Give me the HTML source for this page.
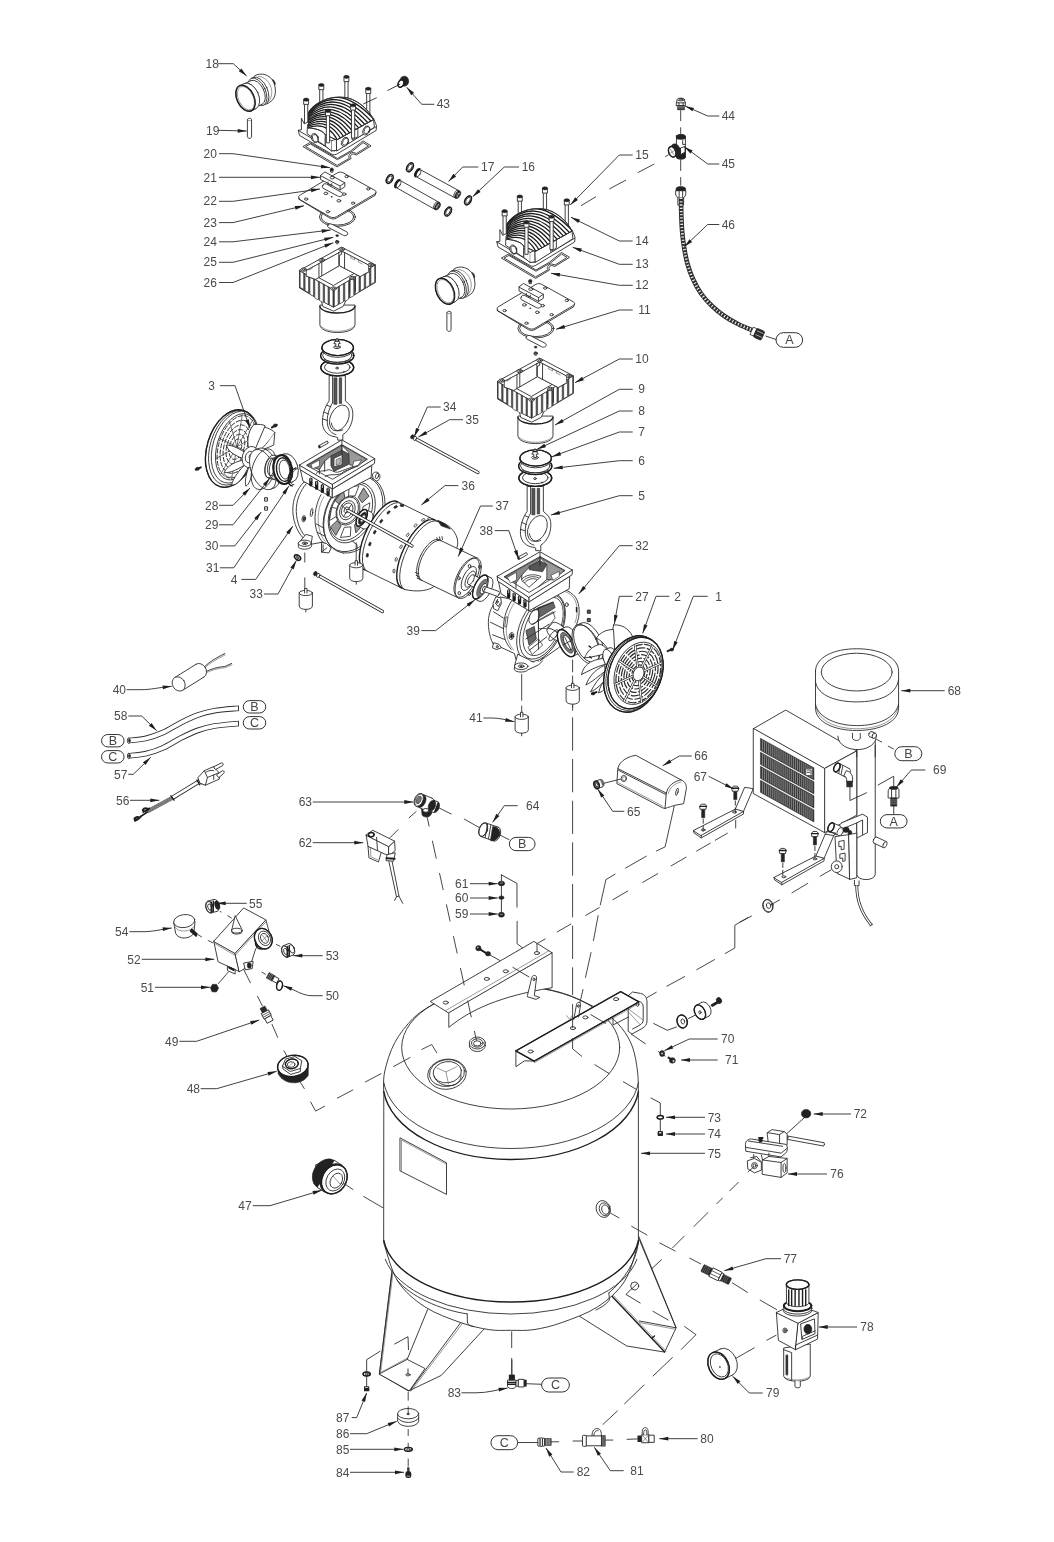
<!DOCTYPE html>
<html><head><meta charset="utf-8"><title>Parts diagram</title>
<style>
html,body{margin:0;padding:0;background:#fff;}
svg{display:block;filter:grayscale(1);}
svg *{vector-effect:non-scaling-stroke;}
text{font-family:"Liberation Sans",sans-serif;font-size:12px;fill:#4a4a4a;}
.ovt{font-size:12.5px;fill:#444;}
.ld{fill:none;stroke:#2a2a2a;stroke-width:0.9;}
.ah{fill:#1e1e1e;stroke:none;}
.ln{fill:none;stroke:#2a2a2a;stroke-width:0.9;}
.ds{fill:none;stroke:#333;stroke-width:0.9;}
.ov{fill:#fff;stroke:#333;stroke-width:1;}
.p{fill:#fff;stroke:#2b2b2b;stroke-width:0.9;stroke-linejoin:round;stroke-linecap:round;}
.n{fill:none;stroke:#2b2b2b;stroke-width:0.9;stroke-linejoin:round;stroke-linecap:round;}
.t{fill:none;stroke:#555;stroke-width:0.6;stroke-linejoin:round;stroke-linecap:round;}
.pt{fill:#fff;stroke:#444;stroke-width:0.7;stroke-linejoin:round;}
.b{fill:none;stroke:#1d1d1d;stroke-width:1.4;stroke-linejoin:round;stroke-linecap:round;}
.bb{fill:none;stroke:#1d1d1d;stroke-width:2;stroke-linejoin:round;stroke-linecap:round;}
.k{fill:#222;stroke:#222;stroke-width:0.6;stroke-linejoin:round;}
.g{fill:#777;stroke:#333;stroke-width:0.6;}
.lg{fill:#ccc;stroke:#333;stroke-width:0.7;}
.w{fill:#fff;stroke:none;}
</style></head><body>
<svg width="1054" height="1542" viewBox="0 0 1054 1542">
<rect class="w" x="0" y="0" width="1054" height="1542"/>
<polygon class="p" points="392,1270 379.4,1373.9 408.5,1391 441.3,1375.4 485,1328 467,1313 430,1290"/>
<path class="p" d="M379.4,1373.9 L407.2,1359.4 L425,1368.5 L409.5,1390.6 Z"/>
<polyline class="t" points="380.6,1372.6 407.2,1358.2"/>
<polyline class="ln" points="427.7,1309.3 407.2,1359.4"/>
<polyline class="ln" points="467.2,1313.9 409.8,1390.9"/>
<polyline class="t" points="468.6,1315.4 411,1391.2"/>
<polyline class="t" points="393.2,1271 380.6,1373"/>
<ellipse class="n" cx="408" cy="1374.8" rx="2.2" ry="1.1"/>
<polyline class="ln" points="408,1368.5 408,1374.8"/>
<polyline class="ln" points="394.3,1344.2 408,1336.7 408.5,1350"/>
<polygon class="p" points="638.6,1236 676.1,1327.8 664.7,1352.1 626.8,1346 579.7,1316.4 600,1290"/>
<polyline class="b" points="608.9,1292.9 664.7,1352.1"/>
<polyline class="t" points="610.4,1292.2 666,1351"/>
<polyline class="ln" points="638.9,1320.9 676.1,1327.8"/>
<polyline class="t" points="639.5,1322.5 675.6,1329.3"/>
<polyline class="b" points="652,1338 654.5,1336"/>
<path class="p" d="M383.8,1096 C383.93,1092 382.77,1080.92 384.6,1072 C386.43,1063.08 390.07,1051.42 394.8,1042.5 C399.53,1033.58 406.97,1024.65 413,1018.5 C419.03,1012.35 424.83,1009.33 431,1005.6 C437.17,1001.87 443.5,998.69 450,996.12 C456.5,993.54 463.33,991.7 470,990.15 C476.67,988.6 483.33,987.56 490,986.82 C496.67,986.08 503.33,985.73 510,985.7 C516.67,985.68 523.33,985.98 530,986.67 C536.67,987.36 543.33,988.35 550,989.84 C556.67,991.32 563.67,993.26 570,995.6 C576.33,997.93 582,1000.91 588,1003.84 C594,1006.77 600.38,1009.17 606,1013.2 C611.62,1017.23 617.28,1022.37 621.7,1028 C626.12,1033.63 629.85,1039.67 632.5,1047 C635.15,1054.33 636.62,1063.83 637.6,1072 C638.58,1080.17 638.27,1092 638.4,1096 L638.4,1243 L638.4,1243 C636.1,1249.37 631.4,1270.57 624.6,1281.2 C617.8,1291.83 608.03,1299.92 597.6,1306.8 C587.17,1313.68 572.6,1318.7 562,1322.5 C551.4,1326.3 542.45,1328.3 534,1329.6 C525.55,1330.9 518.83,1330.3 511.3,1330.3 C503.77,1330.3 497.28,1330.9 488.8,1329.6 C480.32,1328.3 471.07,1326.3 460.4,1322.5 C449.73,1318.7 435.23,1313.68 424.8,1306.8 C414.37,1299.92 404.63,1291.83 397.8,1281.2 C390.97,1270.57 386.13,1249.37 383.8,1243 Z"/>
<ellipse class="n" cx="510.7" cy="1047.5" rx="109" ry="61.5"/>
<path class="n" d="M383.8,1082.68 A128,73.5 0 0 0 638.4,1082.68"/>
<path class="b" d="M383.8,1091.53 A128,75.9 0 0 0 638.4,1091.53"/>
<path class="b" d="M383.8,1240.39 A128,68.8 0 0 0 638.4,1240.39"/>
<path class="n" d="M385.3,1259.29 A128,67.1 0 0 0 636.9,1259.29"/>
<path class="n" d="M467.2,1313.9 L467.4,1322 C468,1325 470,1326 474,1326.6"/>
<path class="n" d="M397,1280 C410,1296 440,1310 467.2,1313.9"/>
<path class="n" d="M608.9,1292.9 L609.4,1300 C606,1305 600,1308 596,1310"/>
<path class="n" d="M638.3,1243 C636,1262 624,1280 608.9,1292.9"/>
<polyline class="ln" points="392,1272.9 379.4,1373.9"/>
<polyline class="ln" points="638.6,1237.9 676.1,1327.8"/>
<ellipse class="p" cx="634.7" cy="1286" rx="4" ry="4"/>
<polyline class="ln" points="631.6,1289 637.8,1283"/>
<polyline class="ln" points="631.3,1289.1 626,1294.4 640.5,1303.2"/>
<polyline class="ln" points="651.1,1269.3 661.7,1259.5"/>
<polygon class="p" points="400.3,1138 446.5,1162.8 446.5,1194.4 400.3,1171"/>
<polyline class="t" points="401.5,1170.5 401.5,1140 446.5,1164.2"/>
<ellipse class="p" cx="603.3" cy="1209" rx="7" ry="8.6" transform="rotate(-20 603.3 1209)"/>
<ellipse class="p" cx="604.6" cy="1209.3" rx="5.2" ry="6.6" transform="rotate(-20 604.6 1209.3)"/>
<ellipse class="n" cx="605.4" cy="1209.6" rx="3.6" ry="4.8" transform="rotate(-20 605.4 1209.6)"/>
<ellipse class="p" cx="447" cy="1074.2" rx="19.3" ry="15" transform="rotate(-8 447 1074.2)"/>
<ellipse class="n" cx="447" cy="1073" rx="17.6" ry="13.4" transform="rotate(-8 447 1073)"/>
<ellipse class="n" cx="447.3" cy="1072.2" rx="14.2" ry="10.6" transform="rotate(-8 447.3 1072.2)"/>
<path class="n" d="M434,1076 C436,1083 444,1086.5 452,1085.5 C458,1084.6 461.5,1080 461,1075"/>
<polyline class="t" points="446,1072 448.5,1084"/>
<polyline class="t" points="437,1068 446,1072 457,1066.5"/>
<ellipse class="p" cx="477.3" cy="1045.5" rx="8" ry="6"/>
<ellipse class="p" cx="477.3" cy="1043" rx="8" ry="6"/>
<ellipse class="n" cx="477.3" cy="1043" rx="5.8" ry="4.2"/>
<ellipse class="n" cx="477.3" cy="1043.4" rx="3.8" ry="2.6"/>
<path class="p" d="M448.8,1012.7 L448.8,1027.4 C470,1010 500,996 552.1,987.7 L552.1,952.8 Z"/>
<polygon class="p" points="430.6,1001.3 533.9,941.4 552.1,952.8 448.8,1012.7"/>
<polyline class="t" points="445.6,1010.6 548.9,950.8"/>
<ellipse class="n" cx="445.8" cy="1002.6" rx="2.6" ry="1.5"/>
<ellipse class="n" cx="486.8" cy="978.9" rx="2.6" ry="1.5"/>
<ellipse class="n" cx="505.8" cy="971.3" rx="2.6" ry="1.5"/>
<ellipse class="n" cx="536.9" cy="953.1" rx="2.6" ry="1.5"/>
<polyline class="ln" points="512.6,967.2 529.3,977.1"/>
<path class="p" d="M527.5,995.2 L531.8,977.5 C532.6,974.6 536.6,974.6 536.6,977.8 L534.3,995.6 L539.8,997.4 L536,999.4 L527.5,996.8 Z"/>
<ellipse class="n" cx="534" cy="979.3" rx="1" ry="1.4"/>
<path class="p" d="M628.5,995.5 L632.5,992 L640.5,993.4 C645,994.5 647,998 647,1002 L647,1021 C647,1024.5 645,1026.8 642,1028.5 L632,1034 L628.5,1031.5 Z"/>
<path class="n" d="M632.5,999.5 L638.8,1001.3 C642,1002.3 643.2,1004 643.2,1007 L643.2,1019.5 C643.2,1022.5 642,1024 639,1025.6 L632.5,1029"/>
<polyline class="t" points="628.5,1009 643,1020"/>
<polyline class="t" points="628.5,1012 640,1024.5"/>
<ellipse class="n" cx="637.6" cy="1004.3" rx="1.3" ry="2"/>
<polyline class="ln" points="630.9,1033.8 645.7,1044"/>
<polygon class="p" points="515.9,1050.8 515.9,1066.7 524.5,1060.8 534.2,1061.1"/>
<polygon class="p" points="515.9,1050.8 620.7,991.6 638.9,1001.9 534.2,1061.1"/>
<polygon class="b" points="515.9,1050.8 620.7,991.6 638.9,1001.9 534.2,1061.1"/>
<polyline class="t" points="534.2,1062.7 638.9,1003.5"/>
<path class="n" d="M613,1018 L613,1025 L628.5,1017"/>
<ellipse class="n" cx="530.7" cy="1051.5" rx="2.6" ry="1.5"/>
<ellipse class="n" cx="572.9" cy="1028.1" rx="2.6" ry="1.5"/>
<ellipse class="n" cx="585.4" cy="1017.4" rx="2.6" ry="1.5"/>
<ellipse class="n" cx="616.1" cy="999.1" rx="2.6" ry="1.5"/>
<polyline class="ln" points="590.5,1014.5 606,1023.5"/>
<path class="n" d="M573.8,1019.5 L576.5,1004.6 C577.2,1001.4 581,1001.6 580.6,1004.8 L578.6,1017"/>
<ellipse class="n" cx="578.4" cy="1006" rx="0.9" ry="1.3"/>
<path class="t" d="M566.5,1015.6 L569.6,1019.4 L572,1015.6"/>
<g transform="translate(225,65) scale(0.07590)">
<ellipse class="k" cx="632" cy="232" rx="26" ry="42" transform="rotate(-25 632 232)"/>
<path class="p" d="M395,140 C470,95 590,120 640,225 C685,330 665,440 605,480 C575,500 555,512 540,516 L300,300 Z"/>
<path class="t" d="M440,150 C520,150 600,230 615,330 C622,400 600,455 575,480"/>
<ellipse class="p" cx="452" cy="341" rx="108" ry="194" transform="rotate(-24.78 452 341)"/>
<polygon points="507.3,529.14 533.3,517.14 370.7,164.86 344.7,176.86" fill="#fff" stroke="none"/>
<path class="n" d="M507.3,529.14 L533.3,517.14 M344.7,176.86 L370.7,164.86"/>
<ellipse class="p" cx="426" cy="353" rx="108" ry="194" transform="rotate(-24.78 426 353)"/>
<ellipse class="p" cx="415" cy="362" rx="100" ry="172" transform="rotate(-25.41 415 362)"/>
<polygon points="408.8,555.36 488.8,517.36 341.2,206.64 261.2,244.64" fill="#fff" stroke="none"/>
<path class="n" d="M408.8,555.36 L488.8,517.36 M261.2,244.64 L341.2,206.64"/>
<ellipse class="p" cx="335" cy="400" rx="100" ry="172" transform="rotate(-25.41 335 400)"/>
<ellipse class="p" cx="330" cy="410" rx="112" ry="182" transform="rotate(-25.02 330 410)"/>
<polygon points="346.97,602.93 406.97,574.93 253.03,245.07 193.03,273.07" fill="#fff" stroke="none"/>
<path class="n" d="M346.97,602.93 L406.97,574.93 M193.03,273.07 L253.03,245.07"/>
<ellipse class="p" cx="270" cy="438" rx="112" ry="182" transform="rotate(-25.02 270 438)"/>
<ellipse class="b" cx="270" cy="438" rx="112" ry="182" transform="rotate(-25 270 438)"/>
<ellipse class="t" cx="276" cy="437" rx="98" ry="164" transform="rotate(-25 276 437)"/>
</g>
<g transform="translate(225,65) scale(0.07590)">
<path class="p" d="M295,720 C295,695 350,695 350,720 L350,945 C350,975 295,975 295,945 Z"/>
<path class="t" d="M295,722 C300,740 345,740 350,722"/>
</g>
<g transform="translate(424.5,258) scale(0.07590)">
<ellipse class="k" cx="632" cy="232" rx="26" ry="42" transform="rotate(-25 632 232)"/>
<path class="p" d="M395,140 C470,95 590,120 640,225 C685,330 665,440 605,480 C575,500 555,512 540,516 L300,300 Z"/>
<path class="t" d="M440,150 C520,150 600,230 615,330 C622,400 600,455 575,480"/>
<ellipse class="p" cx="452" cy="341" rx="108" ry="194" transform="rotate(-24.78 452 341)"/>
<polygon points="507.3,529.14 533.3,517.14 370.7,164.86 344.7,176.86" fill="#fff" stroke="none"/>
<path class="n" d="M507.3,529.14 L533.3,517.14 M344.7,176.86 L370.7,164.86"/>
<ellipse class="p" cx="426" cy="353" rx="108" ry="194" transform="rotate(-24.78 426 353)"/>
<ellipse class="p" cx="415" cy="362" rx="100" ry="172" transform="rotate(-25.41 415 362)"/>
<polygon points="408.8,555.36 488.8,517.36 341.2,206.64 261.2,244.64" fill="#fff" stroke="none"/>
<path class="n" d="M408.8,555.36 L488.8,517.36 M261.2,244.64 L341.2,206.64"/>
<ellipse class="p" cx="335" cy="400" rx="100" ry="172" transform="rotate(-25.41 335 400)"/>
<ellipse class="p" cx="330" cy="410" rx="112" ry="182" transform="rotate(-25.02 330 410)"/>
<polygon points="346.97,602.93 406.97,574.93 253.03,245.07 193.03,273.07" fill="#fff" stroke="none"/>
<path class="n" d="M346.97,602.93 L406.97,574.93 M193.03,273.07 L253.03,245.07"/>
<ellipse class="p" cx="270" cy="438" rx="112" ry="182" transform="rotate(-25.02 270 438)"/>
<ellipse class="b" cx="270" cy="438" rx="112" ry="182" transform="rotate(-25 270 438)"/>
<ellipse class="t" cx="276" cy="437" rx="98" ry="164" transform="rotate(-25 276 437)"/>
</g>
<g transform="translate(424.5,258) scale(0.07590)">
<path class="p" d="M295,720 C295,695 350,695 350,720 L350,945 C350,975 295,975 295,945 Z"/>
<path class="t" d="M295,722 C300,740 345,740 350,722"/>
</g>
<g transform="translate(290,65) scale(0.09488)">
<path class="p" d="M140,858 L208,818 L500,985 L640,905 L770,800 L855,852 L700,948 L668,938 C640,940 628,965 645,985 L500,1072 Z"/>
<path class="p" d="M168,858 L215,832 L500,998 L655,910 L770,818 L828,853 L702,932 L665,922 C620,930 610,970 628,982 L500,1056 Z"/>
<path class="p" d="M313,230 L313,445 L347,445 L347,230 Z"/>
<path class="p" d="M304,210 L304,260 L356,260 L356,210 Z"/>
<ellipse class="k" cx="330" cy="210" rx="27" ry="16"/>
<path class="p" d="M578,145 L578,380 L612,380 L612,145 Z"/>
<path class="p" d="M569,125 L569,175 L621,175 L621,125 Z"/>
<ellipse class="k" cx="595" cy="125" rx="27" ry="16"/>
<path class="p" d="M808,270 L808,555 L842,555 L842,270 Z"/>
<path class="p" d="M799,250 L799,300 L851,300 L851,250 Z"/>
<ellipse class="k" cx="825" cy="250" rx="27" ry="16"/>
<path class="p" d="M153,385 L153,700 L187,700 L187,385 Z"/>
<path class="p" d="M144,365 L144,415 L196,415 L196,365 Z"/>
<ellipse class="k" cx="170" cy="365" rx="27" ry="16"/>
<path class="p" d="M88,690 L100,742 L440,940 Q465,955 492,940 L908,690 L912,640 L880,560 L500,770 L190,600 L150,620 L120,560 L120,680 Z"/>
<path class="n" d="M88,690 L445,900 Q465,910 490,900 L908,650"/>
<path class="p" d="M180,720 L185,630 C200,600 240,610 270,625 L340,665 C365,680 372,700 372,730 L372,850 Z"/>
<ellipse class="p" cx="262" cy="770" rx="36" ry="50" transform="rotate(-20 262 770)"/>
<ellipse class="n" cx="266" cy="772" rx="28" ry="42" transform="rotate(-20 266 772)"/>
<path class="p" d="M372,850 L372,760 L440,800 L440,905 Z"/>
<path class="p" d="M440,800 L492,775 L492,900 L440,905"/>
<path class="p" d="M492,790 L880,575 L890,655 L495,905 Z"/>
<ellipse class="p" cx="580" cy="810" rx="34" ry="50" transform="rotate(25 580 810)"/>
<ellipse class="n" cx="584" cy="808" rx="26" ry="41" transform="rotate(25 584 808)"/>
<ellipse class="p" cx="805" cy="690" rx="34" ry="50" transform="rotate(25 805 690)"/>
<ellipse class="n" cx="809" cy="688" rx="26" ry="41" transform="rotate(25 809 688)"/>
<path class="n" d="M655,700 L655,790 L715,755 L715,665"/>
<path class="p" d="M195,662 L195,500 C230,430 330,372 420,350 C480,335 560,335 620,350 C720,380 830,470 880,575 L492,790 L372,735 C350,700 300,672 195,662 Z"/>
<clipPath id="dc0"><path d="M195,662 L195,500 C230,430 330,372 420,350 C480,335 560,335 620,350 C720,380 830,470 880,575 L492,790 L372,735 C350,700 300,672 195,662 Z"/></clipPath>
<g clip-path="url(#dc0)">
<path d="M190,488 Q490,150 885,572" fill="none" stroke="#1c1c1c" stroke-width="1.3"/>
<path d="M190,502.33 Q481.67,186.67 852.92,590.17" fill="none" stroke="#1c1c1c" stroke-width="1.3"/>
<path d="M190,516.67 Q473.33,223.33 820.83,608.33" fill="none" stroke="#1c1c1c" stroke-width="1.3"/>
<path d="M190,531 Q465,260 788.75,626.5" fill="none" stroke="#1c1c1c" stroke-width="1.3"/>
<path d="M190,545.33 Q456.67,296.67 756.67,644.67" fill="none" stroke="#1c1c1c" stroke-width="1.3"/>
<path d="M190,559.67 Q448.33,333.33 724.58,662.83" fill="none" stroke="#1c1c1c" stroke-width="1.3"/>
<path d="M190,574 Q440,370 692.5,681" fill="none" stroke="#1c1c1c" stroke-width="1.3"/>
<path d="M190,588.33 Q431.67,406.67 660.42,699.17" fill="none" stroke="#1c1c1c" stroke-width="1.3"/>
<path d="M190,602.67 Q423.33,443.33 628.33,717.33" fill="none" stroke="#1c1c1c" stroke-width="1.3"/>
<path d="M190,617 Q415,480 596.25,735.5" fill="none" stroke="#1c1c1c" stroke-width="1.3"/>
<path d="M190,631.33 Q406.67,516.67 564.17,753.67" fill="none" stroke="#1c1c1c" stroke-width="1.3"/>
<path d="M190,645.67 Q398.33,553.33 532.08,771.83" fill="none" stroke="#1c1c1c" stroke-width="1.3"/>
<path d="M190,660 Q390,590 500,790" fill="none" stroke="#1c1c1c" stroke-width="1.3"/>
</g>
<path class="n" d="M195,662 L195,500 C230,430 330,372 420,350 C480,335 560,335 620,350 C720,380 830,470 880,575 L492,790 L372,735 C350,700 300,672 195,662 Z"/>
<path class="p" d="M383,505 L383,820 L417,820 L417,505 Z"/>
<path class="p" d="M374,485 L374,535 L426,535 L426,485 Z"/>
<ellipse class="k" cx="400" cy="485" rx="27" ry="16"/>
<path class="p" d="M648,445 L648,770 L682,770 L682,445 Z"/>
<path class="p" d="M639,425 L639,475 L691,475 L691,425 Z"/>
<ellipse class="k" cx="665" cy="425" rx="27" ry="16"/>
</g>
<g transform="translate(488.5,176.5) scale(0.09488)">
<path class="p" d="M140,858 L208,818 L500,985 L640,905 L770,800 L855,852 L700,948 L668,938 C640,940 628,965 645,985 L500,1072 Z"/>
<path class="p" d="M168,858 L215,832 L500,998 L655,910 L770,818 L828,853 L702,932 L665,922 C620,930 610,970 628,982 L500,1056 Z"/>
<path class="p" d="M313,230 L313,445 L347,445 L347,230 Z"/>
<path class="p" d="M304,210 L304,260 L356,260 L356,210 Z"/>
<ellipse class="k" cx="330" cy="210" rx="27" ry="16"/>
<path class="p" d="M578,145 L578,380 L612,380 L612,145 Z"/>
<path class="p" d="M569,125 L569,175 L621,175 L621,125 Z"/>
<ellipse class="k" cx="595" cy="125" rx="27" ry="16"/>
<path class="p" d="M808,270 L808,555 L842,555 L842,270 Z"/>
<path class="p" d="M799,250 L799,300 L851,300 L851,250 Z"/>
<ellipse class="k" cx="825" cy="250" rx="27" ry="16"/>
<path class="p" d="M153,385 L153,700 L187,700 L187,385 Z"/>
<path class="p" d="M144,365 L144,415 L196,415 L196,365 Z"/>
<ellipse class="k" cx="170" cy="365" rx="27" ry="16"/>
<path class="p" d="M88,690 L100,742 L440,940 Q465,955 492,940 L908,690 L912,640 L880,560 L500,770 L190,600 L150,620 L120,560 L120,680 Z"/>
<path class="n" d="M88,690 L445,900 Q465,910 490,900 L908,650"/>
<path class="p" d="M180,720 L185,630 C200,600 240,610 270,625 L340,665 C365,680 372,700 372,730 L372,850 Z"/>
<ellipse class="p" cx="262" cy="770" rx="36" ry="50" transform="rotate(-20 262 770)"/>
<ellipse class="n" cx="266" cy="772" rx="28" ry="42" transform="rotate(-20 266 772)"/>
<path class="p" d="M372,850 L372,760 L440,800 L440,905 Z"/>
<path class="p" d="M440,800 L492,775 L492,900 L440,905"/>
<path class="p" d="M492,790 L880,575 L890,655 L495,905 Z"/>
<path class="n" d="M655,700 L655,790 L715,755 L715,665"/>
<path class="p" d="M195,662 L195,500 C230,430 330,372 420,350 C480,335 560,335 620,350 C720,380 830,470 880,575 L492,790 L372,735 C350,700 300,672 195,662 Z"/>
<clipPath id="dc310"><path d="M195,662 L195,500 C230,430 330,372 420,350 C480,335 560,335 620,350 C720,380 830,470 880,575 L492,790 L372,735 C350,700 300,672 195,662 Z"/></clipPath>
<g clip-path="url(#dc310)">
<path d="M190,488 Q490,150 885,572" fill="none" stroke="#1c1c1c" stroke-width="1.3"/>
<path d="M190,502.33 Q481.67,186.67 852.92,590.17" fill="none" stroke="#1c1c1c" stroke-width="1.3"/>
<path d="M190,516.67 Q473.33,223.33 820.83,608.33" fill="none" stroke="#1c1c1c" stroke-width="1.3"/>
<path d="M190,531 Q465,260 788.75,626.5" fill="none" stroke="#1c1c1c" stroke-width="1.3"/>
<path d="M190,545.33 Q456.67,296.67 756.67,644.67" fill="none" stroke="#1c1c1c" stroke-width="1.3"/>
<path d="M190,559.67 Q448.33,333.33 724.58,662.83" fill="none" stroke="#1c1c1c" stroke-width="1.3"/>
<path d="M190,574 Q440,370 692.5,681" fill="none" stroke="#1c1c1c" stroke-width="1.3"/>
<path d="M190,588.33 Q431.67,406.67 660.42,699.17" fill="none" stroke="#1c1c1c" stroke-width="1.3"/>
<path d="M190,602.67 Q423.33,443.33 628.33,717.33" fill="none" stroke="#1c1c1c" stroke-width="1.3"/>
<path d="M190,617 Q415,480 596.25,735.5" fill="none" stroke="#1c1c1c" stroke-width="1.3"/>
<path d="M190,631.33 Q406.67,516.67 564.17,753.67" fill="none" stroke="#1c1c1c" stroke-width="1.3"/>
<path d="M190,645.67 Q398.33,553.33 532.08,771.83" fill="none" stroke="#1c1c1c" stroke-width="1.3"/>
<path d="M190,660 Q390,590 500,790" fill="none" stroke="#1c1c1c" stroke-width="1.3"/>
</g>
<path class="n" d="M195,662 L195,500 C230,430 330,372 420,350 C480,335 560,335 620,350 C720,380 830,470 880,575 L492,790 L372,735 C350,700 300,672 195,662 Z"/>
<path class="p" d="M383,505 L383,820 L417,820 L417,505 Z"/>
<path class="p" d="M374,485 L374,535 L426,535 L426,485 Z"/>
<ellipse class="k" cx="400" cy="485" rx="27" ry="16"/>
<path class="p" d="M648,445 L648,770 L682,770 L682,445 Z"/>
<path class="p" d="M639,425 L639,475 L691,475 L691,425 Z"/>
<ellipse class="k" cx="665" cy="425" rx="27" ry="16"/>
</g>
<g transform="translate(290,160) scale(0.09488)">
<ellipse class="p" cx="500" cy="600" rx="190" ry="100"/>
<ellipse class="p" cx="500" cy="600" rx="172" ry="86"/>
<path class="p" d="M92,395 C85,385 95,375 110,368 L500,135 C520,125 540,125 560,135 L895,320 C912,330 912,345 895,358 L490,598 C470,610 440,610 420,598 L100,415 Z"/>
<path class="n" d="M92,400 L92,412 L420,612 C440,624 470,624 490,612 L898,372 L905,345"/>
<ellipse class="n" cx="170" cy="412" rx="18" ry="12"/>
<ellipse class="n" cx="597" cy="175" rx="18" ry="12"/>
<ellipse class="n" cx="825" cy="305" rx="18" ry="12"/>
<ellipse class="n" cx="400" cy="545" rx="18" ry="12"/>
<ellipse class="n" cx="665" cy="455" rx="18" ry="12"/>
<ellipse class="n" cx="378" cy="352" rx="20" ry="13"/>
<ellipse class="n" cx="570" cy="360" rx="20" ry="13"/>
<ellipse class="n" cx="515" cy="430" rx="20" ry="13"/>
<ellipse class="k" cx="440" cy="388" rx="7" ry="5"/>
<path class="p" d="M345,268 C345,250 370,246 385,254 L550,345 C562,355 555,380 535,384 C520,388 510,384 500,378 L345,296 C338,290 340,275 345,268 Z"/>
<path class="p" d="M322,165 L322,205 L528,315 L578,282 L578,240 L372,128 Z"/>
<path class="n" d="M322,165 L528,275 L578,240 M528,275 L528,315"/>
<ellipse class="n" cx="446" cy="186" rx="22" ry="14"/>
<path class="n" d="M400,232 L400,250 L440,272 L440,250"/>
<ellipse class="k" cx="440" cy="100" rx="18" ry="16"/>
<path class="n" d="M428,108 L428,128 L452,128 L452,108"/>
<path class="p" d="M398,690 C398,675 425,668 445,678 L600,758 C615,768 608,792 590,796 C575,800 565,796 555,790 L402,710 C394,704 395,695 398,690 Z"/>
<ellipse class="k" cx="497" cy="797" rx="15" ry="10"/>
<ellipse class="p" cx="497" cy="860" rx="17" ry="13"/>
<ellipse class="k" cx="497" cy="858" rx="8" ry="6"/>
<path class="n" d="M482,862 L482,876 C488,886 506,886 512,876 L512,862"/>
</g>
<g transform="translate(488.5,271.5) scale(0.09488)">
<ellipse class="p" cx="500" cy="600" rx="190" ry="100"/>
<ellipse class="p" cx="500" cy="600" rx="172" ry="86"/>
<path class="p" d="M92,395 C85,385 95,375 110,368 L500,135 C520,125 540,125 560,135 L895,320 C912,330 912,345 895,358 L490,598 C470,610 440,610 420,598 L100,415 Z"/>
<path class="n" d="M92,400 L92,412 L420,612 C440,624 470,624 490,612 L898,372 L905,345"/>
<ellipse class="n" cx="170" cy="412" rx="18" ry="12"/>
<ellipse class="n" cx="597" cy="175" rx="18" ry="12"/>
<ellipse class="n" cx="825" cy="305" rx="18" ry="12"/>
<ellipse class="n" cx="400" cy="545" rx="18" ry="12"/>
<ellipse class="n" cx="665" cy="455" rx="18" ry="12"/>
<ellipse class="n" cx="378" cy="352" rx="20" ry="13"/>
<ellipse class="n" cx="570" cy="360" rx="20" ry="13"/>
<ellipse class="n" cx="515" cy="430" rx="20" ry="13"/>
<ellipse class="k" cx="440" cy="388" rx="7" ry="5"/>
<path class="p" d="M345,268 C345,250 370,246 385,254 L550,345 C562,355 555,380 535,384 C520,388 510,384 500,378 L345,296 C338,290 340,275 345,268 Z"/>
<path class="p" d="M322,165 L322,205 L528,315 L578,282 L578,240 L372,128 Z"/>
<path class="n" d="M322,165 L528,275 L578,240 M528,275 L528,315"/>
<ellipse class="n" cx="446" cy="186" rx="22" ry="14"/>
<path class="n" d="M400,232 L400,250 L440,272 L440,250"/>
<ellipse class="k" cx="440" cy="100" rx="18" ry="16"/>
<path class="n" d="M428,108 L428,128 L452,128 L452,108"/>
<path class="p" d="M398,690 C398,675 425,668 445,678 L600,758 C615,768 608,792 590,796 C575,800 565,796 555,790 L402,710 C394,704 395,695 398,690 Z"/>
<ellipse class="k" cx="497" cy="797" rx="15" ry="10"/>
<ellipse class="p" cx="497" cy="860" rx="17" ry="13"/>
<ellipse class="k" cx="497" cy="858" rx="8" ry="6"/>
<path class="n" d="M482,862 L482,876 C488,886 506,886 512,876 L512,862"/>
</g>
<g transform="translate(290,240) scale(0.09488)">
<path class="p" d="M315,690 L315,890 C315,945 400,975 500,975 C600,975 685,945 685,890 L685,690 Z"/>
<path class="b" d="M315,700 C330,750 420,770 500,770 C590,770 670,745 685,700"/>
<path class="t" d="M330,912 C370,950 440,962 500,962 C570,962 640,945 672,912"/>
<path class="p" d="M330,640 L345,700 L460,750 L560,700 L600,620 L460,705 Z"/>
<polygon points="100,320 460,522 460,707 330,640 100,505" fill="#4a4a4a" stroke="#222" stroke-width="0.8"/>
<polygon points="460,522 900,262 900,447 600,625 460,707" fill="#4a4a4a" stroke="#222" stroke-width="0.8"/>
<polygon class="pt" points="107.2,318.04 144.23,338.82 144.23,519.82 107.2,499.04"/>
<polygon class="pt" points="158.63,346.9 195.66,367.67 195.66,553.67 158.63,532.9"/>
<polygon class="pt" points="210.06,375.75 247.09,396.53 247.09,592.53 210.06,571.75"/>
<polygon class="pt" points="261.49,404.61 298.51,425.39 298.51,631.39 261.49,610.61"/>
<polygon class="pt" points="312.91,433.47 349.94,454.25 349.94,660.25 312.91,639.47"/>
<polygon class="pt" points="364.34,462.33 401.37,483.1 401.37,679.1 364.34,658.33"/>
<polygon class="pt" points="415.77,491.18 452.8,511.96 452.8,702.96 415.77,682.18"/>
<polygon class="pt" points="467.7,511.45 507.3,488.05 507.3,679.05 467.7,702.45"/>
<polygon class="pt" points="522.7,478.95 562.3,455.55 562.3,651.55 522.7,674.95"/>
<polygon class="pt" points="577.7,446.45 617.3,423.05 617.3,624.05 577.7,647.45"/>
<polygon class="pt" points="632.7,413.95 672.3,390.55 672.3,586.55 632.7,609.95"/>
<polygon class="pt" points="687.7,381.45 727.3,358.05 727.3,549.05 687.7,572.45"/>
<polygon class="pt" points="742.7,348.95 782.3,325.55 782.3,511.55 742.7,534.95"/>
<polygon class="pt" points="797.7,316.45 837.3,293.05 837.3,479.05 797.7,502.45"/>
<polygon class="pt" points="852.7,283.95 892.3,260.55 892.3,444.55 852.7,467.95"/>
<polygon class="p" points="100,320 545,75 900,262 460,522"/>
<polygon class="p" points="172,322 545,118 828,264 460,478"/>
<path class="n" d="M270,415 L520,270 L740,385"/>
<path class="n" d="M520,270 L520,135"/>
<path class="n" d="M172,382 L270,415 M828,339 L740,385"/>
<polygon points="172,322 545,118 545,150 520,165 520,270 270,415 172,380" fill="#fff" stroke="#222" stroke-width="0.7"/>
<polygon points="545,118 828,264 828,335 740,385 520,270 520,165 545,150" fill="#fff" stroke="#222" stroke-width="0.7"/>
<path class="n" d="M335,235 L335,375 M305,250 L305,392"/>
<path class="n" d="M515,130 L515,262 M575,135 L575,300"/>
<path class="t" d="M640,170 L640,190 L680,210 L680,192 M720,212 L720,232 L760,252"/>
<path class="t" d="M200,300 L200,318 L235,298 L235,282"/>
<ellipse class="p" cx="145" cy="312" rx="30" ry="18"/>
<ellipse class="n" cx="145" cy="312" rx="13" ry="8"/>
<ellipse class="p" cx="335" cy="212" rx="30" ry="18"/>
<ellipse class="n" cx="335" cy="212" rx="13" ry="8"/>
<ellipse class="p" cx="545" cy="98" rx="30" ry="18"/>
<ellipse class="n" cx="545" cy="98" rx="13" ry="8"/>
<ellipse class="p" cx="852" cy="262" rx="30" ry="18"/>
<ellipse class="n" cx="852" cy="262" rx="13" ry="8"/>
<ellipse class="p" cx="660" cy="400" rx="30" ry="18"/>
<ellipse class="n" cx="660" cy="400" rx="13" ry="8"/>
<ellipse class="p" cx="460" cy="512" rx="30" ry="18"/>
<ellipse class="n" cx="460" cy="512" rx="13" ry="8"/>
<path class="n" d="M630,402 L630,560 M690,402 L690,540"/>
</g>
<g transform="translate(488,351) scale(0.09488)">
<path class="p" d="M315,690 L315,890 C315,945 400,975 500,975 C600,975 685,945 685,890 L685,690 Z"/>
<path class="b" d="M315,700 C330,750 420,770 500,770 C590,770 670,745 685,700"/>
<path class="t" d="M330,912 C370,950 440,962 500,962 C570,962 640,945 672,912"/>
<path class="p" d="M330,640 L345,700 L460,750 L560,700 L600,620 L460,705 Z"/>
<polygon points="100,320 460,522 460,707 330,640 100,505" fill="#4a4a4a" stroke="#222" stroke-width="0.8"/>
<polygon points="460,522 900,262 900,447 600,625 460,707" fill="#4a4a4a" stroke="#222" stroke-width="0.8"/>
<polygon class="pt" points="107.2,318.04 144.23,338.82 144.23,519.82 107.2,499.04"/>
<polygon class="pt" points="158.63,346.9 195.66,367.67 195.66,553.67 158.63,532.9"/>
<polygon class="pt" points="210.06,375.75 247.09,396.53 247.09,592.53 210.06,571.75"/>
<polygon class="pt" points="261.49,404.61 298.51,425.39 298.51,631.39 261.49,610.61"/>
<polygon class="pt" points="312.91,433.47 349.94,454.25 349.94,660.25 312.91,639.47"/>
<polygon class="pt" points="364.34,462.33 401.37,483.1 401.37,679.1 364.34,658.33"/>
<polygon class="pt" points="415.77,491.18 452.8,511.96 452.8,702.96 415.77,682.18"/>
<polygon class="pt" points="467.7,511.45 507.3,488.05 507.3,679.05 467.7,702.45"/>
<polygon class="pt" points="522.7,478.95 562.3,455.55 562.3,651.55 522.7,674.95"/>
<polygon class="pt" points="577.7,446.45 617.3,423.05 617.3,624.05 577.7,647.45"/>
<polygon class="pt" points="632.7,413.95 672.3,390.55 672.3,586.55 632.7,609.95"/>
<polygon class="pt" points="687.7,381.45 727.3,358.05 727.3,549.05 687.7,572.45"/>
<polygon class="pt" points="742.7,348.95 782.3,325.55 782.3,511.55 742.7,534.95"/>
<polygon class="pt" points="797.7,316.45 837.3,293.05 837.3,479.05 797.7,502.45"/>
<polygon class="pt" points="852.7,283.95 892.3,260.55 892.3,444.55 852.7,467.95"/>
<polygon class="p" points="100,320 545,75 900,262 460,522"/>
<polygon class="p" points="172,322 545,118 828,264 460,478"/>
<path class="n" d="M270,415 L520,270 L740,385"/>
<path class="n" d="M520,270 L520,135"/>
<path class="n" d="M172,382 L270,415 M828,339 L740,385"/>
<polygon points="172,322 545,118 545,150 520,165 520,270 270,415 172,380" fill="#fff" stroke="#222" stroke-width="0.7"/>
<polygon points="545,118 828,264 828,335 740,385 520,270 520,165 545,150" fill="#fff" stroke="#222" stroke-width="0.7"/>
<path class="n" d="M335,235 L335,375 M305,250 L305,392"/>
<path class="n" d="M515,130 L515,262 M575,135 L575,300"/>
<path class="t" d="M640,170 L640,190 L680,210 L680,192 M720,212 L720,232 L760,252"/>
<path class="t" d="M200,300 L200,318 L235,298 L235,282"/>
<ellipse class="p" cx="145" cy="312" rx="30" ry="18"/>
<ellipse class="n" cx="145" cy="312" rx="13" ry="8"/>
<ellipse class="p" cx="335" cy="212" rx="30" ry="18"/>
<ellipse class="n" cx="335" cy="212" rx="13" ry="8"/>
<ellipse class="p" cx="545" cy="98" rx="30" ry="18"/>
<ellipse class="n" cx="545" cy="98" rx="13" ry="8"/>
<ellipse class="p" cx="852" cy="262" rx="30" ry="18"/>
<ellipse class="n" cx="852" cy="262" rx="13" ry="8"/>
<ellipse class="p" cx="660" cy="400" rx="30" ry="18"/>
<ellipse class="n" cx="660" cy="400" rx="13" ry="8"/>
<ellipse class="p" cx="460" cy="512" rx="30" ry="18"/>
<ellipse class="n" cx="460" cy="512" rx="13" ry="8"/>
<path class="n" d="M630,402 L630,560 M690,402 L690,540"/>
</g>
<g transform="translate(295,330) scale(0.08539)">
<path class="p" d="M400,540 L400,830 C350,900 315,1000 322,1100 C330,1190 400,1245 470,1250 L500,1260 L500,1290 L560,1290 L560,1225 C640,1180 690,1060 675,950 C668,900 640,870 590,830 L590,540 Z"/>
<path class="n" d="M440,850 C395,930 370,1010 380,1100 C388,1170 430,1215 480,1225"/>
<path class="n" d="M322,1040 L380,1060 M340,960 L392,985 M372,880 L420,900"/>
<ellipse class="p" cx="520" cy="1030" rx="105" ry="160" transform="rotate(25 520 1030)"/>
<path class="n" d="M425,1090 C440,1170 500,1200 560,1170"/>
<rect x="455" y="560" width="36" height="310" fill="#555" stroke="#222" stroke-width="0.6"/>
<rect x="518" y="560" width="28" height="300" fill="#555" stroke="#222" stroke-width="0.6"/>
<polyline class="n" points="440,545 440,850"/>
<ellipse class="b" cx="495" cy="440" rx="192" ry="97"/>
<ellipse class="p" cx="495" cy="440" rx="192" ry="97"/>
<ellipse class="b" cx="495" cy="440" rx="192" ry="97"/>
<ellipse class="n" cx="495" cy="436" rx="150" ry="70"/>
<ellipse class="n" cx="492" cy="446" rx="16" ry="11"/>
<ellipse class="k" cx="572" cy="490" rx="6" ry="5"/>
<ellipse class="p" cx="495" cy="300" rx="195" ry="100"/>
<ellipse class="b" cx="495" cy="300" rx="195" ry="100"/>
<ellipse class="n" cx="495" cy="296" rx="172" ry="84"/>
<path class="n" d="M345,345 C400,390 590,390 650,345"/>
<ellipse class="p" cx="500" cy="225" rx="185" ry="95"/>
<ellipse class="p" cx="500" cy="205" rx="185" ry="95"/>
<ellipse class="b" cx="500" cy="205" rx="185" ry="95"/>
<path class="n" d="M315,205 L315,225 M685,205 L685,225"/>
<ellipse class="p" cx="492" cy="200" rx="40" ry="18"/>
<path class="p" d="M478,195 L478,160 L455,160 L492,95 L530,160 L508,160 L508,195 Z"/>
<path class="b" d="M470,130 L515,130"/>
</g>
<g transform="translate(493,440.5) scale(0.08539)">
<path class="p" d="M400,540 L400,830 C350,900 315,1000 322,1100 C330,1190 400,1245 470,1250 L500,1260 L500,1290 L560,1290 L560,1225 C640,1180 690,1060 675,950 C668,900 640,870 590,830 L590,540 Z"/>
<path class="n" d="M440,850 C395,930 370,1010 380,1100 C388,1170 430,1215 480,1225"/>
<path class="n" d="M322,1040 L380,1060 M340,960 L392,985 M372,880 L420,900"/>
<ellipse class="p" cx="520" cy="1030" rx="105" ry="160" transform="rotate(25 520 1030)"/>
<path class="n" d="M425,1090 C440,1170 500,1200 560,1170"/>
<rect x="455" y="560" width="36" height="310" fill="#555" stroke="#222" stroke-width="0.6"/>
<rect x="518" y="560" width="28" height="300" fill="#555" stroke="#222" stroke-width="0.6"/>
<polyline class="n" points="440,545 440,850"/>
<ellipse class="b" cx="495" cy="440" rx="192" ry="97"/>
<ellipse class="p" cx="495" cy="440" rx="192" ry="97"/>
<ellipse class="b" cx="495" cy="440" rx="192" ry="97"/>
<ellipse class="n" cx="495" cy="436" rx="150" ry="70"/>
<ellipse class="n" cx="492" cy="446" rx="16" ry="11"/>
<ellipse class="k" cx="572" cy="490" rx="6" ry="5"/>
<ellipse class="p" cx="495" cy="300" rx="195" ry="100"/>
<ellipse class="b" cx="495" cy="300" rx="195" ry="100"/>
<ellipse class="n" cx="495" cy="296" rx="172" ry="84"/>
<path class="n" d="M345,345 C400,390 590,390 650,345"/>
<ellipse class="p" cx="500" cy="225" rx="185" ry="95"/>
<ellipse class="p" cx="500" cy="205" rx="185" ry="95"/>
<ellipse class="b" cx="500" cy="205" rx="185" ry="95"/>
<path class="n" d="M315,205 L315,225 M685,205 L685,225"/>
<ellipse class="p" cx="492" cy="200" rx="40" ry="18"/>
<path class="p" d="M478,195 L478,160 L455,160 L492,95 L530,160 L508,160 L508,195 Z"/>
<path class="b" d="M470,130 L515,130"/>
</g>
<g transform="translate(380,70) scale(0.09728)">
<polygon class="p" points="371.93,1096.89 779.93,1318.89 820.07,1245.11 412.07,1023.11"/>
<ellipse class="p" cx="392" cy="1060" rx="22" ry="42" transform="rotate(28.55 392 1060)"/>
<path d="M412.07,1023.11 A22,42 28.55 0 0 371.93,1096.89" fill="none" stroke="#1a1a1a" stroke-width="2.6"/>
<ellipse class="n" cx="786" cy="1274" rx="22" ry="42" transform="rotate(28.55 786 1274)"/>
<ellipse class="k" cx="800" cy="1282" rx="24" ry="42" transform="rotate(28.55 800 1282)"/>
<ellipse class="p" cx="802" cy="1283" rx="15" ry="28" transform="rotate(28.55 802 1283)"/>
<ellipse class="n" cx="803" cy="1284" rx="7" ry="12" transform="rotate(28.55 803 1284)"/>
<polygon class="p" points="166.4,1208.6 571.4,1436.6 612.6,1363.4 207.6,1135.4"/>
<ellipse class="p" cx="187" cy="1172" rx="22" ry="42" transform="rotate(29.38 187 1172)"/>
<path d="M207.6,1135.4 A22,42 29.38 0 0 166.4,1208.6" fill="none" stroke="#1a1a1a" stroke-width="2.6"/>
<ellipse class="n" cx="578" cy="1392" rx="22" ry="42" transform="rotate(29.38 578 1392)"/>
<ellipse class="k" cx="592" cy="1400" rx="24" ry="42" transform="rotate(29.38 592 1400)"/>
<ellipse class="p" cx="594" cy="1401" rx="15" ry="28" transform="rotate(29.38 594 1401)"/>
<ellipse class="n" cx="595" cy="1402" rx="7" ry="12" transform="rotate(29.38 595 1402)"/>
<ellipse class="p" cx="308" cy="1000" rx="30" ry="50" transform="rotate(30 308 1000)"/>
<ellipse class="b" cx="308" cy="1000" rx="30" ry="50" transform="rotate(30 308 1000)"/>
<ellipse class="p" cx="308" cy="1000" rx="18" ry="36" transform="rotate(30 308 1000)"/>
<ellipse class="p" cx="100" cy="1120" rx="30" ry="50" transform="rotate(30 100 1120)"/>
<ellipse class="b" cx="100" cy="1120" rx="30" ry="50" transform="rotate(30 100 1120)"/>
<ellipse class="p" cx="100" cy="1120" rx="18" ry="36" transform="rotate(30 100 1120)"/>
<ellipse class="p" cx="905" cy="1340" rx="30" ry="50" transform="rotate(30 905 1340)"/>
<ellipse class="b" cx="905" cy="1340" rx="30" ry="50" transform="rotate(30 905 1340)"/>
<ellipse class="p" cx="905" cy="1340" rx="18" ry="36" transform="rotate(30 905 1340)"/>
<ellipse class="p" cx="700" cy="1455" rx="30" ry="50" transform="rotate(30 700 1455)"/>
<ellipse class="b" cx="700" cy="1455" rx="30" ry="50" transform="rotate(30 700 1455)"/>
<ellipse class="p" cx="700" cy="1455" rx="18" ry="36" transform="rotate(30 700 1455)"/>
<ellipse class="k" cx="250" cy="115" rx="45" ry="52"/>
<ellipse class="p" cx="215" cy="140" rx="28" ry="40" transform="rotate(25 215 140)"/>
<ellipse class="b" cx="215" cy="140" rx="28" ry="40" transform="rotate(25 215 140)"/>
<polyline class="n" points="80,210 205,146"/>
</g>
<polyline class="ln" points="363.3,104 376.7,97.7"/>
<g transform="translate(650,90) scale(0.07778)">
<path class="p" d="M340,165 L350,120 L440,120 L455,165 L455,200 L340,200 Z"/>
<ellipse class="p" cx="397" cy="122" rx="46" ry="18"/>
<ellipse class="n" cx="397" cy="118" rx="26" ry="9"/>
<path class="n" d="M340,165 L455,165 M372,165 L372,200 M425,165 L425,200"/>
<rect x="352" y="200" width="92" height="55" fill="#2a2a2a" stroke="#222" stroke-width="0.5"/>
<path class="w" d="M352,215 L444,215 M352,232 L444,232"/>
<path d="M352,214 L444,214 M352,231 L444,231" fill="none" stroke="#bbb" stroke-width="0.6"/>
<path class="p" d="M340,590 L340,870 C360,895 435,895 455,870 L455,590 C430,565 365,565 340,590 Z"/>
<path d="M340,590 C365,565 430,565 455,590 L455,625 C430,640 365,640 340,625 Z" fill="#222" stroke="#222" stroke-width="0.5"/>
<path d="M340,760 L455,740 L455,870 C435,895 360,895 340,870 Z" fill="#222" stroke="#222" stroke-width="0.5"/>
<path class="p" d="M395,745 L450,725 L450,800 L395,830 Z"/>
<path class="n" d="M420,650 L420,700 L450,700"/>
<ellipse class="k" cx="330" cy="775" rx="60" ry="85" transform="rotate(-20 330 775)"/>
<ellipse class="p" cx="285" cy="795" rx="45" ry="70" transform="rotate(-20 285 795)"/>
<ellipse class="b" cx="285" cy="795" rx="45" ry="70" transform="rotate(-20 285 795)"/>
<path class="t" d="M262,760 L310,835 M250,820 L320,775"/>
<path d="M335,1262 C350,1235 440,1235 458,1262 L458,1300 L335,1300 Z" fill="#222" stroke="#222" stroke-width="0.5"/>
<path class="p" d="M330,1300 L330,1350 L355,1385 L435,1385 L460,1350 L460,1300 Z"/>
<path class="n" d="M375,1300 L375,1385 M420,1300 L420,1385"/>
<path class="p" d="M358,1385 L358,1480 L432,1480 L432,1385"/>
</g>
<polyline class="ds" points="680.7,110.2 680.7,121.1"/>
<polyline class="ds" points="680.7,127.3 680.7,133.9"/>
<polyline class="ds" points="680.7,160 680.7,170.9"/>
<polyline class="ds" points="680.7,177.1 680.7,185.7"/>
<polyline class="ds" points="665.2,156.9 668.7,154.6"/>
<polyline class="ds" points="637.7,172.7 654.3,164"/>
<polyline class="ds" points="609.3,189 626,180"/>
<polyline class="ds" points="581,205.7 596,196.7"/>
<path d="M681,198 C681.05,200.83 681.1,209.33 681.3,215 C681.5,220.67 681.72,226.5 682.2,232 C682.68,237.5 683.32,242.67 684.2,248 C685.08,253.33 686.03,258.83 687.5,264 C688.97,269.17 690.75,274.08 693,279 C695.25,283.92 697.83,289 701,293.5 C704.17,298 708,302.17 712,306 C716,309.83 720.5,313.42 725,316.5 C729.5,319.58 734.33,322.17 739,324.5 C743.67,326.83 750.67,329.5 753,330.5" fill="none" stroke="#2a2a2a" stroke-width="4.6"/>
<path d="M681,198 C681.05,200.83 681.1,209.33 681.3,215 C681.5,220.67 681.72,226.5 682.2,232 C682.68,237.5 683.32,242.67 684.2,248 C685.08,253.33 686.03,258.83 687.5,264 C688.97,269.17 690.75,274.08 693,279 C695.25,283.92 697.83,289 701,293.5 C704.17,298 708,302.17 712,306 C716,309.83 720.5,313.42 725,316.5 C729.5,319.58 734.33,322.17 739,324.5 C743.67,326.83 750.67,329.5 753,330.5" fill="none" stroke="#e8e8e8" stroke-width="2.8" stroke-dasharray="1.3 1.9"/>
<path d="M681,198 C681.05,200.83 681.1,209.33 681.3,215 C681.5,220.67 681.72,226.5 682.2,232 C682.68,237.5 683.32,242.67 684.2,248 C685.08,253.33 686.03,258.83 687.5,264 C688.97,269.17 690.75,274.08 693,279 C695.25,283.92 697.83,289 701,293.5 C704.17,298 708,302.17 712,306 C716,309.83 720.5,313.42 725,316.5 C729.5,319.58 734.33,322.17 739,324.5 C743.67,326.83 750.67,329.5 753,330.5" fill="none" stroke="#3a3a3a" stroke-width="0.9" stroke-dasharray="1.3 1.9" stroke-dashoffset="1.6"/>
<g transform="translate(0,0) scale(1.00000)">
<g transform="rotate(24 758 333.6)">
<rect x="751" y="329.6" width="4" height="8" fill="#fff" stroke="#222" stroke-width="0.8"/>
<rect x="755" y="329" width="8.5" height="9.6" rx="1.5" fill="#2a2a2a" stroke="#222" stroke-width="0.8"/>
<path d="M756,331.5 L763,331.5 M756,335.5 L763,335.5" stroke="#ddd" stroke-width="0.7" fill="none"/>
</g>
</g>
<polyline class="ln" points="765.6,336 776,339.5"/>
<g transform="translate(190,395) scale(0.11386)">
<path class="bb" d="M720,285 L762,262"/>
<ellipse class="k" cx="748" cy="268" rx="16" ry="14"/>
<path class="bb" d="M50,655 L95,635"/>
<ellipse class="k" cx="66" cy="648" rx="16" ry="14"/>
<ellipse class="p" cx="365" cy="470" rx="215" ry="350" transform="rotate(17 365 470)"/>
<ellipse class="p" cx="382" cy="463" rx="205" ry="338" transform="rotate(17 382 463)"/>
<ellipse class="p" cx="396" cy="458" rx="195" ry="325" transform="rotate(17 396 458)"/>
<ellipse class="b" cx="365" cy="470" rx="215" ry="350" transform="rotate(17 365 470)"/>
<ellipse class="p" cx="410" cy="455" rx="172" ry="300" transform="rotate(17 410 455)"/>
<ellipse cx="412" cy="455" rx="160" ry="282" transform="rotate(17 412 455)" fill="none" stroke="#333" stroke-width="1.0" stroke-dasharray="5 1.2"/>
<ellipse cx="412" cy="455" rx="136" ry="240" transform="rotate(17 412 455)" fill="none" stroke="#333" stroke-width="1.0" stroke-dasharray="5 1.2"/>
<ellipse cx="412" cy="455" rx="112" ry="198" transform="rotate(17 412 455)" fill="none" stroke="#333" stroke-width="1.0" stroke-dasharray="5 1.2"/>
<ellipse cx="412" cy="455" rx="88" ry="156" transform="rotate(17 412 455)" fill="none" stroke="#333" stroke-width="1.0" stroke-dasharray="5 1.2"/>
<ellipse cx="412" cy="455" rx="64" ry="114" transform="rotate(17 412 455)" fill="none" stroke="#333" stroke-width="1.0" stroke-dasharray="5 1.2"/>
<ellipse cx="412" cy="455" rx="40" ry="72" transform="rotate(17 412 455)" fill="none" stroke="#333" stroke-width="1.0" stroke-dasharray="5 1.2"/>
<line x1="412" y1="455" x2="566.41" y2="529.18" stroke="#333" stroke-width="0.7"/>
<line x1="412" y1="455" x2="477.92" y2="678.22" stroke="#333" stroke-width="0.7"/>
<line x1="412" y1="455" x2="364.25" y2="741.99" stroke="#333" stroke-width="0.7"/>
<line x1="412" y1="455" x2="268.82" y2="696.14" stroke="#333" stroke-width="0.7"/>
<line x1="412" y1="455" x2="228.08" y2="558.19" stroke="#333" stroke-width="0.7"/>
<line x1="412" y1="455" x2="257.59" y2="380.82" stroke="#333" stroke-width="0.7"/>
<line x1="412" y1="455" x2="346.08" y2="231.78" stroke="#333" stroke-width="0.7"/>
<line x1="412" y1="455" x2="459.75" y2="168.01" stroke="#333" stroke-width="0.7"/>
<line x1="412" y1="455" x2="555.18" y2="213.86" stroke="#333" stroke-width="0.7"/>
<line x1="412" y1="455" x2="595.92" y2="351.81" stroke="#333" stroke-width="0.7"/>
</g>
<g transform="translate(190,395) scale(0.11386)">
<path class="p" d="M520,500 C500,420 500,330 560,260 C640,270 720,300 745,330 C700,400 640,470 575,520 Z"/>
<path class="p" d="M560,260 C600,255 640,258 660,270 L575,470"/>
<path class="p" d="M745,330 L735,440 L640,480"/>
<path class="p" d="M500,520 C440,470 370,440 320,440 C330,480 360,520 470,560 Z"/>
<path class="p" d="M480,570 C400,580 330,620 300,680 C350,690 430,650 500,600 Z"/>
<path class="p" d="M495,600 C430,660 380,730 365,790 C410,800 470,730 520,620 Z"/>
<path class="p" d="M520,625 C490,700 480,760 490,800 C520,790 545,720 550,640 Z"/>
<path class="p" d="M300,690 C320,720 340,730 360,720"/>
<ellipse class="p" cx="530" cy="545" rx="70" ry="95" transform="rotate(17 530 545)"/>
<ellipse class="n" cx="525" cy="545" rx="38" ry="52" transform="rotate(17 525 545)"/>
<ellipse class="lg" cx="535" cy="540" rx="16" ry="22" transform="rotate(17 535 540)"/>
</g>
<g transform="translate(190,395) scale(0.11386)">
<ellipse class="p" cx="672" cy="642" rx="102" ry="186" transform="rotate(-22.11 672 642)"/>
<polygon points="710.01,827.32 742.01,814.32 601.99,469.68 569.99,482.68" fill="#fff" stroke="none"/>
<path class="n" d="M710.01,827.32 L742.01,814.32 M569.99,482.68 L601.99,469.68"/>
<ellipse class="p" cx="640" cy="655" rx="102" ry="186" transform="rotate(-22.11 640 655)"/>
<ellipse class="n" cx="647" cy="652" rx="100" ry="184" transform="rotate(17 647 652)"/>
<ellipse class="p" cx="790" cy="648" rx="55" ry="104" transform="rotate(13.5 790 648)"/>
<polygon points="690.73,731.13 765.73,749.13 814.27,546.87 739.27,528.87" fill="#fff" stroke="none"/>
<path class="n" d="M690.73,731.13 L765.73,749.13 M739.27,528.87 L814.27,546.87"/>
<ellipse class="p" cx="715" cy="630" rx="55" ry="104" transform="rotate(13.5 715 630)"/>
<ellipse class="n" cx="750" cy="640" rx="52" ry="100" transform="rotate(10 750 640)"/>
<ellipse class="n" cx="722" cy="632" rx="40" ry="80" transform="rotate(10 722 632)"/>
<ellipse class="n" cx="700" cy="640" rx="40" ry="88" transform="rotate(10 700 640)"/>
<ellipse class="p" cx="865" cy="640" rx="82" ry="128" transform="rotate(-16.7 865 640)"/>
<polygon points="851.78,777.6 901.78,762.6 828.22,517.4 778.22,532.4" fill="#fff" stroke="none"/>
<path class="n" d="M851.78,777.6 L901.78,762.6 M778.22,532.4 L828.22,517.4"/>
<ellipse class="p" cx="815" cy="655" rx="82" ry="128" transform="rotate(-16.7 815 655)"/>
<ellipse class="bb" cx="815" cy="655" rx="82" ry="128" transform="rotate(-8 815 655)"/>
<ellipse class="b" cx="822" cy="655" rx="62" ry="104" transform="rotate(-8 822 655)"/>
<ellipse class="p" cx="830" cy="655" rx="46" ry="84" transform="rotate(-8 830 655)"/>
<path class="b" d="M930,640 C890,650 860,700 862,750 C864,780 880,800 900,798"/>
<path class="n" d="M945,645 C905,660 878,705 880,750 C882,775 895,790 912,788"/>
<rect x="655" y="902" width="26" height="30" fill="#fff" stroke="#222" stroke-width="0.9"/>
<rect x="655" y="982" width="26" height="30" fill="#fff" stroke="#222" stroke-width="0.9"/>
<rect x="661" y="908" width="12" height="12" fill="#888"/>
<rect x="661" y="988" width="12" height="12" fill="#888"/>
</g>
<g transform="translate(285,430) scale(0.10436)">
<path class="p" d="M840,420 C860,390 905,400 910,440 C912,480 880,500 850,490 Z"/>
<ellipse class="n" cx="882" cy="440" rx="14" ry="28" transform="rotate(20 882 440)"/>
<path class="p" d="M180,500 C120,560 70,660 75,780 C80,900 130,1000 200,1060 L250,1095 L360,1075 L560,1180 L800,1000 L860,480 L455,620 Z"/>
<path class="n" d="M200,520 C150,580 105,670 108,780 C112,890 150,980 215,1040"/>
<path class="n" d="M345,620 C300,700 280,800 290,900 C300,980 330,1040 360,1075"/>
<path class="t" d="M372,640 C330,710 310,800 320,900 C328,970 350,1030 385,1068"/>
<ellipse class="p" cx="180" cy="850" rx="17" ry="30" transform="rotate(10 180 850)"/>
<ellipse class="k" cx="182" cy="850" rx="9" ry="20" transform="rotate(10 182 850)"/>
<ellipse class="p" cx="255" cy="790" rx="11" ry="40" transform="rotate(8 255 790)"/>
<path class="n" d="M300,900 L380,945 M310,980 L375,1015"/>
<ellipse class="p" cx="665" cy="810" rx="270" ry="388" transform="rotate(25 665 810)"/>
<ellipse class="n" cx="652" cy="804" rx="262" ry="380" transform="rotate(25 652 804)"/>
<ellipse class="n" cx="640" cy="792" rx="205" ry="305" transform="rotate(25 640 792)"/>
<ellipse class="n" cx="632" cy="788" rx="188" ry="285" transform="rotate(25 632 788)"/>
<polygon points="718.29,852.4 666.16,909.77 679.27,985.6 761.47,888.66" fill="#9a9a9a" stroke="#222" stroke-width="0.8"/>
<polygon points="631.45,928.33 568.18,932.66 531.17,1030.13 626.01,1018.32" fill="#fff" stroke="#222" stroke-width="0.8"/>
<polygon points="537.9,918.54 500.55,867.29 435.11,929.3 487.02,1009.54" fill="#9a9a9a" stroke="#222" stroke-width="0.8"/>
<polygon points="492.45,828.77 502.89,751.96 447.35,742.19 425.93,867.47" fill="#fff" stroke="#222" stroke-width="0.8"/>
<polygon points="521.71,711.6 573.84,654.23 560.73,578.4 478.53,675.34" fill="#9a9a9a" stroke="#222" stroke-width="0.8"/>
<polygon points="608.55,635.67 671.82,631.34 708.83,533.87 613.99,545.68" fill="#fff" stroke="#222" stroke-width="0.8"/>
<polygon points="702.1,645.46 739.45,696.71 804.89,634.7 752.98,554.46" fill="#9a9a9a" stroke="#222" stroke-width="0.8"/>
<polygon points="747.55,735.23 737.11,812.04 792.65,821.81 814.07,696.53" fill="#fff" stroke="#222" stroke-width="0.8"/>
<ellipse class="p" cx="604" cy="772" rx="108" ry="145" transform="rotate(25 604 772)"/>
<ellipse class="n" cx="600" cy="770" rx="98" ry="133" transform="rotate(25 600 770)"/>
<ellipse class="p" cx="598" cy="769" rx="70" ry="96" transform="rotate(25 598 769)"/>
<ellipse class="n" cx="596" cy="768" rx="52" ry="72" transform="rotate(25 596 768)"/>
<ellipse class="p" cx="590" cy="766" rx="22" ry="30" transform="rotate(25 590 766)"/>
<path class="n" d="M540,720 L650,815 M560,830 L640,710"/>
<ellipse class="p" cx="790" cy="868" rx="42" ry="88" transform="rotate(25.3 790 868)"/>
<polygon points="697.39,921.56 752.39,947.56 827.61,788.44 772.61,762.44" fill="#fff" stroke="none"/>
<path class="n" d="M697.39,921.56 L752.39,947.56 M772.61,762.44 L827.61,788.44"/>
<ellipse class="p" cx="735" cy="842" rx="42" ry="88" transform="rotate(25.3 735 842)"/>
<ellipse class="b" cx="735" cy="842" rx="42" ry="88" transform="rotate(27 735 842)"/>
<ellipse class="k" cx="742" cy="846" rx="30" ry="64" transform="rotate(27 742 846)"/>
<ellipse class="p" cx="746" cy="848" rx="18" ry="40" transform="rotate(27 746 848)"/>
<polygon class="p" points="150,380 455,565 455,650 175,490"/>
<path d="M248,470 L248,525" stroke="#1c1c1c" stroke-width="3.3" fill="none" stroke-linecap="round"/>
<path d="M248,462 L248,492" stroke="#fff" stroke-width="0.7" fill="none" stroke-linecap="butt"/>
<path d="M303,502 L303,557" stroke="#1c1c1c" stroke-width="3.3" fill="none" stroke-linecap="round"/>
<path d="M303,494 L303,524" stroke="#fff" stroke-width="0.7" fill="none" stroke-linecap="butt"/>
<path d="M358,534 L358,589" stroke="#1c1c1c" stroke-width="3.3" fill="none" stroke-linecap="round"/>
<path d="M358,526 L358,556" stroke="#fff" stroke-width="0.7" fill="none" stroke-linecap="butt"/>
<path d="M413,566 L413,621" stroke="#1c1c1c" stroke-width="3.3" fill="none" stroke-linecap="round"/>
<path d="M413,558 L413,588" stroke="#fff" stroke-width="0.7" fill="none" stroke-linecap="butt"/>
<polygon class="p" points="455,565 832,340 825,455 455,650"/>
<polygon class="p" points="140,335 144,380 455,565 455,520"/>
<polygon class="p" points="455,520 455,565 858,320 860,275"/>
<polygon class="p" points="140,335 545,95 860,275 455,520"/>
<polygon points="205,338 545,140 790,280 455,472" fill="#fff" stroke="#222" stroke-width="0.8"/>
<polygon points="215,338 545,146 545,235 440,250 380,300 330,380" fill="#8a8a8a" stroke="#222" stroke-width="0.7"/>
<polygon points="250,330 330,288 330,345 262,372" fill="#fff" stroke="#222" stroke-width="0.6"/>
<polygon points="545,146 780,282 700,345 620,335 610,215" fill="#9a9a9a" stroke="#222" stroke-width="0.7"/>
<polygon points="660,300 735,285 700,340 645,352" fill="#fff" stroke="#222" stroke-width="0.6"/>
<polygon points="440,250 545,195 608,228 608,330 470,395 440,345" fill="#555" stroke="#222" stroke-width="0.7"/>
<polygon points="470,272 545,236 545,330 470,352" fill="#fff" stroke="#222" stroke-width="0.6"/>
<polygon points="490,285 530,266 530,322 490,336" fill="#bbb" stroke="#222" stroke-width="0.5"/>
<path class="n" d="M300,415 C330,380 370,400 400,385 C440,365 470,420 520,400 C560,385 600,370 650,352"/>
<path class="n" d="M385,445 C430,410 520,450 560,400 L700,345"/>
<path class="n" d="M330,380 L330,420 M380,300 L380,395"/>
<path class="p" d="M325,150 L405,105 L415,125 L335,170 Z"/>
<ellipse class="k" cx="330" cy="160" rx="8" ry="12"/>
<path class="n" d="M545,100 L545,230"/>
<path class="p" d="M150,1060 L200,1000 L262,1018 L250,1095 Z"/>
<path class="p" d="M128,1085 L128,1120 C140,1150 235,1150 252,1118 L252,1085"/>
<ellipse class="p" cx="190" cy="1085" rx="62" ry="30"/>
<ellipse class="n" cx="190" cy="1085" rx="26" ry="12"/>
<ellipse class="k" cx="190" cy="1086" rx="10" ry="5"/>
<path class="p" d="M350,1080 L350,1170 L420,1178 L442,1130 L400,1090 Z"/>
<path class="n" d="M365,1100 L365,1160 M350,1170 L400,1130"/>
<path class="n" d="M640,1060 L690,1100 L690,1135"/>
</g>
<g transform="translate(350,480) scale(0.14231)">
<path d="M616.61,290.92 C700,300 790,400 745,490 L600,740 C560,780 470,790 383.39,769.08 Z" fill="#fff" stroke="none"/>
<path class="n" d="M616.61,290.92 C700,300 790,400 745,490 L600,740 C560,780 470,790 383.39,769.08"/>
<polygon points="334.61,152.92 616.61,290.92 383.39,769.08 101.39,631.08" fill="#fff" stroke="none"/>
<path class="n" d="M334.61,152.92 L616.61,290.92 M101.39,631.08 L383.39,769.08"/>
<ellipse cx="218" cy="392" rx="108" ry="266" transform="rotate(26 218 392)" fill="#fff" stroke="none"/>
<path class="b" d="M334.61,152.92 A108,266 26 0 0 101.39,631.08"/>
<path class="n" d="M354.61,162.92 A108,266 26 0 0 121.39,641.08"/>
<rect x="109.2" y="522.63" width="25" height="13" rx="5" ry="5" fill="#2a2a2a" stroke="#222" stroke-width="0.8" transform="rotate(-82.69 121.7 529.13)"/>
<rect x="127.41" y="443.61" width="25" height="13" rx="5" ry="5" fill="#2a2a2a" stroke="#222" stroke-width="0.8" transform="rotate(-72.2 139.91 450.11)"/>
<rect x="161.35" y="360.21" width="25" height="13" rx="5" ry="5" fill="#2a2a2a" stroke="#222" stroke-width="0.8" transform="rotate(-63.73 173.85 366.71)"/>
<rect x="206.77" y="282.84" width="25" height="13" rx="5" ry="5" fill="#2a2a2a" stroke="#222" stroke-width="0.8" transform="rotate(-55.2 219.27 289.34)"/>
<rect x="258.01" y="221.12" width="25" height="13" rx="5" ry="5" fill="#2a2a2a" stroke="#222" stroke-width="0.8" transform="rotate(-44.48 270.51 227.62)"/>
<rect x="308.69" y="182.75" width="25" height="13" rx="5" ry="5" fill="#2a2a2a" stroke="#222" stroke-width="0.8" transform="rotate(-27.22 321.19 189.25)"/>
<rect x="352.49" y="172.52" width="25" height="13" rx="5" ry="5" fill="#2a2a2a" stroke="#222" stroke-width="0.8" transform="rotate(6.78 364.99 179.02)"/>
<path class="b" d="M596.61,280.92 A108,266 26 0 0 363.39,759.08"/>
<path class="n" d="M616.61,290.92 A108,266 26 0 0 383.39,769.08"/>
<rect x="296.43" y="633.23" width="25" height="13" rx="5" ry="5" fill="#fff" stroke="#222" stroke-width="0.8" transform="rotate(-85.95 308.93 639.73)"/>
<rect x="311.87" y="551.48" width="25" height="13" rx="5" ry="5" fill="#fff" stroke="#222" stroke-width="0.8" transform="rotate(-73.86 324.37 557.98)"/>
<rect x="345.78" y="462.67" width="25" height="13" rx="5" ry="5" fill="#fff" stroke="#222" stroke-width="0.8" transform="rotate(-64.67 358.28 469.17)"/>
<rect x="393.35" y="379.35" width="25" height="13" rx="5" ry="5" fill="#fff" stroke="#222" stroke-width="0.8" transform="rotate(-55.65 405.85 385.85)"/>
<rect x="447.86" y="313.28" width="25" height="13" rx="5" ry="5" fill="#fff" stroke="#222" stroke-width="0.8" transform="rotate(-44.27 460.36 319.78)"/>
<rect x="501.62" y="273.82" width="25" height="13" rx="5" ry="5" fill="#fff" stroke="#222" stroke-width="0.8" transform="rotate(-25.25 514.12 280.32)"/>
<rect x="547.02" y="266.52" width="25" height="13" rx="5" ry="5" fill="#fff" stroke="#222" stroke-width="0.8" transform="rotate(13.75 559.52 273.02)"/>
<path class="k" d="M615,282 C650,296 690,318 705,345 L640,322 Z"/>
<ellipse class="p" cx="560" cy="560" rx="70" ry="155" transform="rotate(-154.29 560 560)"/>
<polygon points="897.24,550.34 627.24,420.34 492.76,699.66 762.76,829.66" fill="#fff" stroke="none"/>
<path class="n" d="M897.24,550.34 L627.24,420.34 M762.76,829.66 L492.76,699.66"/>
<ellipse class="p" cx="830" cy="690" rx="70" ry="155" transform="rotate(-154.29 830 690)"/>
<path class="n" d="M610,405 L618,425 M628,400 L634,420 M646,398 L650,418"/>
<path class="n" d="M460,650 L480,660 M465,670 L485,680 M472,690 L492,698"/>
<path class="n" d="M639.95,426.69 A70,155 26 0 0 504.05,705.31"/>
<ellipse class="n" cx="820" cy="686" rx="68" ry="150" transform="rotate(26 820 686)"/>
<ellipse class="n" cx="835" cy="692" rx="40" ry="92" transform="rotate(26 835 692)"/>
<ellipse class="n" cx="845" cy="697" rx="28" ry="62" transform="rotate(26 845 697)"/>
<ellipse class="n" cx="840" cy="605" rx="9" ry="12"/>
<ellipse class="n" cx="912" cy="610" rx="9" ry="12"/>
<ellipse class="n" cx="765" cy="690" rx="9" ry="12"/>
<ellipse class="n" cx="768" cy="795" rx="9" ry="12"/>
<ellipse class="n" cx="838" cy="800" rx="9" ry="12"/>
<ellipse class="p" cx="930" cy="745" rx="18" ry="38" transform="rotate(29.36 930 745)"/>
<polygon points="831.37,733.12 911.37,778.12 948.63,711.88 868.63,666.88" fill="#fff" stroke="none"/>
<path class="n" d="M831.37,733.12 L911.37,778.12 M868.63,666.88 L948.63,711.88"/>
<ellipse class="p" cx="850" cy="700" rx="18" ry="38" transform="rotate(29.36 850 700)"/>
<ellipse class="p" cx="950" cy="770" rx="40" ry="92" transform="rotate(27.22 950 770)"/>
<polygon points="872.92,833.81 907.92,851.81 992.08,688.19 957.08,670.19" fill="#fff" stroke="none"/>
<path class="n" d="M872.92,833.81 L907.92,851.81 M957.08,670.19 L992.08,688.19"/>
<ellipse class="p" cx="915" cy="752" rx="40" ry="92" transform="rotate(27.22 915 752)"/>
<ellipse class="b" cx="915" cy="752" rx="40" ry="92" transform="rotate(26 915 752)"/>
<ellipse class="g" cx="930" cy="760" rx="30" ry="68" transform="rotate(26 930 760)"/>
<ellipse class="p" cx="938" cy="764" rx="18" ry="40" transform="rotate(26 938 764)"/>
<ellipse class="p" cx="1040" cy="800" rx="8" ry="18" transform="rotate(19.29 1040 800)"/>
<polygon points="934.05,781.99 1034.05,816.99 1045.95,783.01 945.95,748.01" fill="#fff" stroke="none"/>
<path class="n" d="M934.05,781.99 L1034.05,816.99 M945.95,748.01 L1045.95,783.01"/>
<ellipse class="p" cx="940" cy="765" rx="8" ry="18" transform="rotate(19.29 940 765)"/>
</g>
<line x1="415" y1="438.5" x2="478" y2="472.5" stroke="#222" stroke-width="3.2" stroke-linecap="round"/>
<line x1="415" y1="438.5" x2="478" y2="472.5" stroke="#fff" stroke-width="1.7" stroke-linecap="round"/>
<ellipse class="k" cx="412.3" cy="436.8" rx="1.6" ry="2.2" transform="rotate(26 412.3 436.8)"/>
<ellipse class="p" cx="415" cy="438.4" rx="1.4" ry="2.2" transform="rotate(26 415 438.4)"/>
<line x1="317.5" y1="575" x2="382.5" y2="611.5" stroke="#222" stroke-width="3.2" stroke-linecap="round"/>
<line x1="317.5" y1="575" x2="382.5" y2="611.5" stroke="#fff" stroke-width="1.7" stroke-linecap="round"/>
<ellipse class="k" cx="315.3" cy="573.6" rx="1.7" ry="2.3" transform="rotate(26 315.3 573.6)"/>
<ellipse class="p" cx="318.2" cy="575.4" rx="1.4" ry="2.2" transform="rotate(26 318.2 575.4)"/>
<line x1="348" y1="510.5" x2="412" y2="546" stroke="#222" stroke-width="3.2" stroke-linecap="round"/>
<line x1="348" y1="510.5" x2="412" y2="546" stroke="#fff" stroke-width="1.7" stroke-linecap="round"/>
<g transform="translate(480,545) scale(0.10436)">
<path class="p" d="M700,440 C760,400 860,430 915,500 C960,570 960,680 925,760 C900,820 850,850 800,850 L560,1130 L480,600 Z"/>
<path class="t" d="M720,452 C775,420 850,445 900,510 C940,575 940,670 910,745"/>
<ellipse class="n" cx="832" cy="572" rx="14" ry="18"/>
<ellipse class="k" cx="745" cy="728" rx="12" ry="16"/>
<path class="b" d="M925,600 L925,640"/>
<path class="p" d="M190,500 C120,560 80,650 80,740 C80,850 110,930 150,990 L200,980 L330,1040 L345,1100 L470,1120 L480,560 Z"/>
<path class="n" d="M300,540 C250,620 220,720 225,820 C230,900 260,960 300,1000"/>
<path class="t" d="M325,560 C275,640 248,730 252,825 C256,900 285,965 322,1005"/>
<path class="n" d="M130,640 L225,700 M100,740 L222,800 M120,860 L235,905"/>
<rect x="243" y="690" width="18" height="95" fill="#fff" stroke="#222" stroke-width="0.7" transform="rotate(8 252 737)"/>
<ellipse class="p" cx="302" cy="872" rx="22" ry="34" transform="rotate(12 302 872)"/>
<ellipse class="k" cx="303" cy="872" rx="11" ry="22" transform="rotate(12 303 872)"/>
<path class="p" d="M130,940 L118,985 L160,1002 L205,985 L185,955 Z"/>
<ellipse class="n" cx="165" cy="975" rx="9" ry="12"/>
<path class="p" d="M150,500 L125,560 L130,610 L170,630 L205,560 L200,510 Z"/>
<path class="n" d="M150,560 L175,590 L195,555 M150,560 L170,520"/>
<ellipse class="n" cx="165" cy="545" rx="9" ry="12"/>
<ellipse class="p" cx="585" cy="790" rx="200" ry="350" transform="rotate(25 585 790)"/>
<ellipse class="n" cx="595" cy="785" rx="182" ry="330" transform="rotate(25 595 785)"/>
<ellipse cx="605" cy="780" rx="160" ry="300" transform="rotate(25 605 780)" fill="#fff" stroke="#222" stroke-width="0.8"/>
<polygon points="500,640 560,600 700,545 720,600 560,700 510,720" fill="#666" stroke="#222" stroke-width="0.7"/>
<polygon points="560,720 700,640 720,700 640,800 560,800" fill="#fff" stroke="#222" stroke-width="0.7"/>
<polygon points="440,820 520,780 540,900 470,960" fill="#666" stroke="#222" stroke-width="0.7"/>
<polygon points="460,980 560,900 600,960 500,1050" fill="#fff" stroke="#222" stroke-width="0.7"/>
<ellipse class="p" cx="520" cy="690" rx="45" ry="75" transform="rotate(25 520 690)"/>
<path class="n" d="M480,640 L700,550 M500,760 L720,640 M440,900 L660,760 M470,1010 L640,880 M560,600 L560,1000"/>
<path class="n" d="M590,1100 L760,980"/>
<ellipse class="p" cx="760" cy="800" rx="35" ry="85" transform="rotate(-50.19 760 800)"/>
<polygon points="775.3,914.42 825.3,854.42 694.7,745.58 644.7,805.58" fill="#fff" stroke="none"/>
<path class="n" d="M775.3,914.42 L825.3,854.42 M644.7,805.58 L694.7,745.58"/>
<ellipse class="p" cx="710" cy="860" rx="35" ry="85" transform="rotate(-50.19 710 860)"/>
<ellipse class="n" cx="705" cy="865" rx="25" ry="65" transform="rotate(40 705 865)"/>
<polygon class="p" points="180,350 470,545 470,630 205,470"/>
<path d="M275,440 L275,495" stroke="#1c1c1c" stroke-width="3.3" fill="none" stroke-linecap="round"/>
<path d="M275,432 L275,462" stroke="#fff" stroke-width="0.7" fill="none" stroke-linecap="butt"/>
<path d="M327,470 L327,525" stroke="#1c1c1c" stroke-width="3.3" fill="none" stroke-linecap="round"/>
<path d="M327,462 L327,492" stroke="#fff" stroke-width="0.7" fill="none" stroke-linecap="butt"/>
<path d="M379,500 L379,555" stroke="#1c1c1c" stroke-width="3.3" fill="none" stroke-linecap="round"/>
<path d="M379,492 L379,522" stroke="#fff" stroke-width="0.7" fill="none" stroke-linecap="butt"/>
<path d="M431,530 L431,585" stroke="#1c1c1c" stroke-width="3.3" fill="none" stroke-linecap="round"/>
<path d="M431,522 L431,552" stroke="#fff" stroke-width="0.7" fill="none" stroke-linecap="butt"/>
<polygon class="p" points="470,545 860,300 855,420 470,630"/>
<polygon class="p" points="165,300 169,345 470,545 470,500"/>
<polygon class="p" points="470,500 470,545 883,285 885,240"/>
<polygon class="p" points="165,300 575,65 885,240 470,500"/>
<polygon points="230,305 575,110 815,245 470,455" fill="#fff" stroke="#222" stroke-width="0.8"/>
<polygon points="240,305 575,118 575,200 470,215 400,290 345,365" fill="#8a8a8a" stroke="#222" stroke-width="0.7"/>
<polygon points="262,310 350,262 350,335 292,365" fill="#fff" stroke="#222" stroke-width="0.6"/>
<polygon points="575,118 808,246 700,335 640,330 640,190" fill="#9a9a9a" stroke="#222" stroke-width="0.7"/>
<polygon points="680,290 760,252 760,300 700,338" fill="#fff" stroke="#222" stroke-width="0.6"/>
<polygon points="470,205 575,152 640,188 600,255 520,245 470,235" fill="#555" stroke="#222" stroke-width="0.7"/>
<path d="M395,335 C430,282 520,272 585,302 L470,405 Z" fill="#fff" stroke="#222" stroke-width="0.8"/>
<path d="M410,350 C445,302 510,294 562,314" fill="none" stroke="#222" stroke-width="0.8"/>
<path d="M425,365 C455,325 505,315 545,330" fill="none" stroke="#222" stroke-width="0.8"/>
<path class="n" d="M345,365 L345,410 M400,290 L400,330 M640,330 L560,400"/>
<path class="p" d="M365,115 L445,72 L455,92 L375,137 Z"/>
<ellipse class="k" cx="370" cy="127" rx="8" ry="12"/>
<path class="n" d="M575,70 L575,200"/>
<path class="p" d="M360,1050 L345,1110 L330,1160 L470,1175 L520,1130 L470,1100 Z"/>
<path class="p" d="M330,1160 L330,1195 C345,1225 440,1225 460,1195 L560,1150 L600,1110"/>
<ellipse class="p" cx="395" cy="1162" rx="65" ry="32"/>
<ellipse class="n" cx="395" cy="1162" rx="28" ry="13"/>
<ellipse class="k" cx="395" cy="1163" rx="10" ry="5"/>
</g>
<g transform="translate(560,605) scale(0.11386)">
<ellipse class="p" cx="105" cy="310" rx="60" ry="130" transform="rotate(-26.57 105 310)"/>
<polygon points="113.14,451.28 163.14,426.28 46.86,193.72 -3.14,218.72" fill="#fff" stroke="none"/>
<path class="n" d="M113.14,451.28 L163.14,426.28 M-3.14,218.72 L46.86,193.72"/>
<ellipse class="p" cx="55" cy="335" rx="60" ry="130" transform="rotate(-26.57 55 335)"/>
<ellipse class="b" cx="55" cy="335" rx="60" ry="130" transform="rotate(-26 55 335)"/>
<ellipse class="g" cx="62" cy="332" rx="42" ry="100" transform="rotate(-26 62 332)"/>
<ellipse class="p" cx="68" cy="330" rx="28" ry="70" transform="rotate(-26 68 330)"/>
<path class="n" d="M40,280 L95,390 M30,350 L100,310"/>
<ellipse class="p" cx="262" cy="328" rx="100" ry="185" transform="rotate(-24.68 262 328)"/>
<polygon points="302.24,513.11 339.24,496.11 184.76,159.89 147.76,176.89" fill="#fff" stroke="none"/>
<path class="n" d="M302.24,513.11 L339.24,496.11 M147.76,176.89 L184.76,159.89"/>
<ellipse class="p" cx="225" cy="345" rx="100" ry="185" transform="rotate(-24.68 225 345)"/>
<ellipse class="n" cx="235" cy="340" rx="96" ry="178" transform="rotate(-26 235 340)"/>
<rect x="240" y="45" width="26" height="28" fill="#555" stroke="#222" stroke-width="0.9"/>
<rect x="240" y="118" width="26" height="28" fill="#555" stroke="#222" stroke-width="0.9"/>
<path class="p" d="M470,175 C540,170 600,200 640,280 L560,360 L470,400 C455,330 455,250 470,175 Z"/>
<path class="p" d="M320,290 C350,240 410,215 470,215 L480,390 L430,400 C400,350 360,310 320,290 Z"/>
<path class="p" d="M215,465 C240,400 290,360 350,345 C400,360 420,400 430,420 C350,440 280,460 215,465 Z"/>
<path class="p" d="M190,610 C200,540 260,480 380,470 L400,520 C320,540 250,580 190,610 Z"/>
<path class="p" d="M230,700 C250,640 300,570 390,530 L400,580 C340,620 280,680 230,700 Z"/>
<path class="p" d="M270,760 C300,700 340,640 400,590 L410,640 C370,690 320,745 270,760 Z"/>
<path class="p" d="M340,770 C350,720 370,680 410,650 L420,700 C400,740 370,765 340,770 Z"/>
<path class="b" d="M255,360 L270,372 M262,455 L275,465"/>
<ellipse class="p" cx="470" cy="465" rx="45" ry="95" transform="rotate(-20.56 470 465)"/>
<polygon points="463.36,568.95 503.36,553.95 436.64,376.05 396.64,391.05" fill="#fff" stroke="none"/>
<path class="n" d="M463.36,568.95 L503.36,553.95 M396.64,391.05 L436.64,376.05"/>
<ellipse class="p" cx="430" cy="480" rx="45" ry="95" transform="rotate(-20.56 430 480)"/>
</g>
<g transform="translate(560,605) scale(0.11386)">
<path class="bb" d="M945,405 L990,385"/>
<ellipse class="k" cx="982" cy="392" rx="15" ry="13"/>
<path class="bb" d="M280,780 L320,765"/>
<ellipse class="k" cx="292" cy="777" rx="15" ry="13"/>
<ellipse class="p" cx="642" cy="606" rx="245" ry="345" transform="rotate(20 642 606)"/>
<ellipse class="b" cx="642" cy="606" rx="245" ry="345" transform="rotate(20 642 606)"/>
<ellipse class="p" cx="654" cy="601" rx="238" ry="335" transform="rotate(20 654 601)"/>
<ellipse class="p" cx="664" cy="597" rx="230" ry="323" transform="rotate(20 664 597)"/>
<ellipse class="b" cx="664" cy="597" rx="230" ry="323" transform="rotate(20 664 597)"/>
<ellipse class="p" cx="685" cy="600" rx="200" ry="282" transform="rotate(20 685 600)"/>
<ellipse cx="688" cy="602" rx="186" ry="264" transform="rotate(20 688 602)" fill="none" stroke="#2a2a2a" stroke-width="1.15" stroke-dasharray="9 1.6"/>
<ellipse cx="688" cy="602" rx="164" ry="233" transform="rotate(20 688 602)" fill="none" stroke="#2a2a2a" stroke-width="1.15" stroke-dasharray="9 1.6"/>
<ellipse cx="688" cy="602" rx="142" ry="202" transform="rotate(20 688 602)" fill="none" stroke="#2a2a2a" stroke-width="1.15" stroke-dasharray="9 1.6"/>
<ellipse cx="688" cy="602" rx="120" ry="171" transform="rotate(20 688 602)" fill="none" stroke="#2a2a2a" stroke-width="1.15" stroke-dasharray="9 1.6"/>
<ellipse cx="688" cy="602" rx="98" ry="140" transform="rotate(20 688 602)" fill="none" stroke="#2a2a2a" stroke-width="1.15" stroke-dasharray="9 1.6"/>
<ellipse cx="688" cy="602" rx="76" ry="109" transform="rotate(20 688 602)" fill="none" stroke="#2a2a2a" stroke-width="1.15" stroke-dasharray="9 1.6"/>
<ellipse cx="688" cy="602" rx="54" ry="78" transform="rotate(20 688 602)" fill="none" stroke="#2a2a2a" stroke-width="1.15" stroke-dasharray="9 1.6"/>
<line x1="688" y1="602" x2="854.6" y2="714.38" stroke="#222" stroke-width="2.3"/>
<line x1="688" y1="602" x2="854.6" y2="714.38" stroke="#fff" stroke-width="1.1"/>
<line x1="688" y1="602" x2="716.27" y2="856.37" stroke="#222" stroke-width="2.3"/>
<line x1="688" y1="602" x2="716.27" y2="856.37" stroke="#fff" stroke-width="1.1"/>
<line x1="688" y1="602" x2="561.38" y2="849.36" stroke="#222" stroke-width="2.3"/>
<line x1="688" y1="602" x2="561.38" y2="849.36" stroke="#fff" stroke-width="1.1"/>
<line x1="688" y1="602" x2="480.66" y2="697.44" stroke="#222" stroke-width="2.3"/>
<line x1="688" y1="602" x2="480.66" y2="697.44" stroke="#fff" stroke-width="1.1"/>
<line x1="688" y1="602" x2="521.4" y2="489.62" stroke="#222" stroke-width="2.3"/>
<line x1="688" y1="602" x2="521.4" y2="489.62" stroke="#fff" stroke-width="1.1"/>
<line x1="688" y1="602" x2="659.73" y2="347.63" stroke="#222" stroke-width="2.3"/>
<line x1="688" y1="602" x2="659.73" y2="347.63" stroke="#fff" stroke-width="1.1"/>
<line x1="688" y1="602" x2="814.62" y2="354.64" stroke="#222" stroke-width="2.3"/>
<line x1="688" y1="602" x2="814.62" y2="354.64" stroke="#fff" stroke-width="1.1"/>
<line x1="688" y1="602" x2="895.34" y2="506.56" stroke="#222" stroke-width="2.3"/>
<line x1="688" y1="602" x2="895.34" y2="506.56" stroke="#fff" stroke-width="1.1"/>
<ellipse class="p" cx="690" cy="605" rx="46" ry="62" transform="rotate(20 690 605)"/>
</g>
<path class="p" d="M299.2,593 L299.2,606 C299.2,610.5 312.4,610.5 312.4,606 L312.4,593 Z"/>
<ellipse class="p" cx="305.8" cy="593" rx="6.6" ry="2.6"/>
<path class="p" d="M304.6,593 L304.6,588.5 L307,588.5 L307,593"/>
<path class="n" d="M305.8,609.5 L305.8,612"/>
<path class="p" d="M349.7,565.2 L349.7,578.2 C349.7,582.7 362.9,582.7 362.9,578.2 L362.9,565.2 Z"/>
<ellipse class="p" cx="356.3" cy="565.2" rx="6.6" ry="2.6"/>
<path class="p" d="M355.1,565.2 L355.1,560.7 L357.5,560.7 L357.5,565.2"/>
<path class="n" d="M356.3,581.7 L356.3,584.2"/>
<path class="p" d="M515.1,716.8 L515.1,729.8 C515.1,734.3 528.3,734.3 528.3,729.8 L528.3,716.8 Z"/>
<ellipse class="p" cx="521.7" cy="716.8" rx="6.6" ry="2.6"/>
<path class="p" d="M520.5,716.8 L520.5,712.3 L522.9,712.3 L522.9,716.8"/>
<path class="n" d="M521.7,733.3 L521.7,735.8"/>
<path class="p" d="M566.1,687.8 L566.1,700.8 C566.1,705.3 579.3,705.3 579.3,700.8 L579.3,687.8 Z"/>
<ellipse class="p" cx="572.7" cy="687.8" rx="6.6" ry="2.6"/>
<path class="p" d="M571.5,687.8 L571.5,683.3 L573.9,683.3 L573.9,687.8"/>
<path class="n" d="M572.7,704.3 L572.7,706.8"/>
<g transform="translate(0,0) scale(1.00000)">
<ellipse class="p" cx="297.5" cy="557.5" rx="3.6" ry="2.2" transform="rotate(35 297.5 557.5)"/>
<ellipse class="b" cx="297.5" cy="557.5" rx="3.6" ry="2.2" transform="rotate(35 297.5 557.5)"/>
<ellipse class="g" cx="297.5" cy="557.5" rx="2" ry="1.1" transform="rotate(35 297.5 557.5)"/>
</g>
<g transform="translate(95,645) scale(0.17078)">
<path class="n" d="M640,128 C670,100 700,80 760,50"/>
<path class="t" d="M640,135 C672,108 702,88 762,58"/>
<path class="n" d="M640,160 C680,140 720,128 760,126 L800,108"/>
<path class="t" d="M642,167 C682,147 722,135 762,133 L802,115"/>
<ellipse class="p" cx="615" cy="150" rx="36" ry="44" transform="rotate(-31.96 615 150)"/>
<polygon points="513.29,265.33 638.29,187.33 591.71,112.67 466.71,190.67" fill="#fff" stroke="none"/>
<path class="n" d="M513.29,265.33 L638.29,187.33 M466.71,190.67 L591.71,112.67"/>
<ellipse class="p" cx="490" cy="228" rx="36" ry="44" transform="rotate(-31.96 490 228)"/>
</g>
<path d="M128.3,740.6 C131.28,740.22 140.37,739.67 146.2,738.3 C152.03,736.93 157.6,734.95 163.3,732.4 C169,729.85 174.7,725.87 180.4,723 C186.1,720.13 191.82,717.25 197.5,715.2 C203.18,713.15 207.67,711.87 214.5,710.7 C221.33,709.53 234.5,708.62 238.5,708.2" fill="none" stroke="#2b2b2b" stroke-width="5.6" stroke-linecap="butt"/>
<path d="M128.3,740.6 C131.28,740.22 140.37,739.67 146.2,738.3 C152.03,736.93 157.6,734.95 163.3,732.4 C169,729.85 174.7,725.87 180.4,723 C186.1,720.13 191.82,717.25 197.5,715.2 C203.18,713.15 207.67,711.87 214.5,710.7 C221.33,709.53 234.5,708.62 238.5,708.2" fill="none" stroke="#fff" stroke-width="3.9" stroke-linecap="butt"/>
<ellipse class="p" cx="128.8" cy="740.6" rx="1.4" ry="2.7"/>
<ellipse class="k" cx="129.1" cy="740.6" rx="0.6" ry="1.6"/>
<polyline class="ln" points="238.5,705.6 238.5,710.9"/>
<path d="M128.3,755.9 C131.28,755.52 140.37,754.97 146.2,753.6 C152.03,752.23 157.6,750.25 163.3,747.7 C169,745.15 174.7,741.17 180.4,738.3 C186.1,735.43 191.82,732.55 197.5,730.5 C203.18,728.45 207.67,727.17 214.5,726 C221.33,724.83 234.5,723.92 238.5,723.5" fill="none" stroke="#2b2b2b" stroke-width="5.6" stroke-linecap="butt"/>
<path d="M128.3,755.9 C131.28,755.52 140.37,754.97 146.2,753.6 C152.03,752.23 157.6,750.25 163.3,747.7 C169,745.15 174.7,741.17 180.4,738.3 C186.1,735.43 191.82,732.55 197.5,730.5 C203.18,728.45 207.67,727.17 214.5,726 C221.33,724.83 234.5,723.92 238.5,723.5" fill="none" stroke="#fff" stroke-width="3.9" stroke-linecap="butt"/>
<ellipse class="p" cx="128.8" cy="755.9" rx="1.4" ry="2.7"/>
<ellipse class="k" cx="129.1" cy="755.9" rx="0.6" ry="1.6"/>
<polyline class="ln" points="238.5,720.9 238.5,726.2"/>
<g transform="translate(125,755) scale(0.10438)">
<line x1="448" y1="396" x2="208" y2="526" stroke="#333" stroke-width="0.7"/>
<line x1="451.5" y1="403" x2="211.5" y2="533" stroke="#333" stroke-width="0.7"/>
<line x1="455" y1="410" x2="215" y2="540" stroke="#333" stroke-width="0.7"/>
<line x1="458.5" y1="417" x2="218.5" y2="547" stroke="#333" stroke-width="0.7"/>
<line x1="462" y1="424" x2="222" y2="554" stroke="#333" stroke-width="0.7"/>
<path class="n" d="M215,540 L150,585 M215,525 L235,512"/>
<path class="bb" d="M90,612 C100,595 120,590 135,600 M95,630 C110,625 130,615 150,590"/>
<path class="bb" d="M170,528 C180,512 200,508 215,515 M175,545 C190,540 215,530 232,512"/>
<path class="b" d="M150,590 L215,548"/>
<line x1="455" y1="410" x2="700" y2="260" stroke="#2b2b2b" stroke-width="4.3"/>
<line x1="457" y1="409" x2="700" y2="260" stroke="#fff" stroke-width="2.7"/>
<path class="b" d="M440,392 L470,432"/>
<path class="b" d="M690,240 L715,285 M705,232 L730,276 M720,224 L745,268"/>
<path class="p" d="M700,215 L760,150 L850,110 L900,170 L905,230 L770,290 L720,270 Z"/>
<path class="n" d="M760,150 L790,215 L770,290 M790,215 L900,170 M850,235 L850,190"/>
<path class="n" d="M775,165 C800,150 830,140 850,150"/>
<path class="p" d="M850,112 L925,75 C940,72 945,95 935,102 L870,138 Z"/>
<path class="p" d="M880,187 L935,150 C950,148 955,170 945,177 L900,216 Z"/>
</g>
<g transform="translate(160,890) scale(0.17078)">
<ellipse class="p" cx="325" cy="90" rx="22" ry="36" transform="rotate(-15.95 325 90)"/>
<polygon points="299.89,134.61 334.89,124.61 315.11,55.39 280.11,65.39" fill="#fff" stroke="none"/>
<path class="n" d="M299.89,134.61 L334.89,124.61 M280.11,65.39 L315.11,55.39"/>
<ellipse class="p" cx="290" cy="100" rx="22" ry="36" transform="rotate(-15.95 290 100)"/>
<ellipse class="n" cx="290" cy="100" rx="20" ry="33" transform="rotate(-16 290 100)"/>
<ellipse class="n" cx="291" cy="100" rx="11" ry="19" transform="rotate(-16 291 100)"/>
<path class="b" d="M300,70 L300,130 M312,66 L312,126"/>
<ellipse class="k" cx="335" cy="88" rx="14" ry="26" transform="rotate(-16 335 88)"/>
<path class="p" d="M80,190 L92,255 C110,290 170,290 198,255 L205,185 Z"/>
<ellipse class="p" cx="142" cy="182" rx="62" ry="38" transform="rotate(-8 142 182)"/>
<path class="t" d="M88,215 C100,250 180,250 203,210"/>
<path class="bb" d="M185,232 L215,258"/>
<path class="bb" d="M180,240 L212,268"/>
<polygon class="p" points="315,300 340,420 465,478 440,370"/>
<polygon class="p" points="440,370 620,175 642,255 560,345 530,440 465,478"/>
<polygon class="p" points="315,300 490,105 620,175 440,370"/>
<path class="t" d="M318,312 L440,383 L620,187"/>
<path class="p" d="M420,235 L440,150 L480,232 C480,250 420,255 420,235 Z"/>
<ellipse class="p" cx="450" cy="238" rx="31" ry="14"/>
<path class="n" d="M420,238 L422,250 C435,262 470,260 480,248 L480,238"/>
<ellipse class="p" cx="605" cy="285" rx="50" ry="62" transform="rotate(-25 605 285)"/>
<ellipse class="b" cx="605" cy="285" rx="50" ry="62" transform="rotate(-25 605 285)"/>
<ellipse class="p" cx="612" cy="283" rx="34" ry="44" transform="rotate(-25 612 283)"/>
<ellipse class="n" cx="612" cy="283" rx="22" ry="30" transform="rotate(-25 612 283)"/>
<path class="t" d="M595,300 L630,265 M600,265 L625,300"/>
<path class="b" d="M560,300 C555,330 575,350 600,345"/>
<path class="p" d="M395,448 L395,472 L440,492 L440,468 Z"/>
<path class="bb" d="M405,455 L430,468"/>
<path class="p" d="M490,430 L500,468 L540,460 L545,420 Z"/>
<ellipse class="k" cx="523" cy="442" rx="12" ry="16"/>
<ellipse class="p" cx="765" cy="348" rx="22" ry="36" transform="rotate(-21.8 765 348)"/>
<polygon points="748.37,393.43 778.37,381.43 751.63,314.57 721.63,326.57" fill="#fff" stroke="none"/>
<path class="n" d="M748.37,393.43 L778.37,381.43 M721.63,326.57 L751.63,314.57"/>
<ellipse class="p" cx="735" cy="360" rx="22" ry="36" transform="rotate(-21.8 735 360)"/>
<ellipse class="n" cx="735" cy="360" rx="20" ry="33" transform="rotate(-20 735 360)"/>
<ellipse class="n" cx="736" cy="360" rx="11" ry="19" transform="rotate(-20 736 360)"/>
<path class="b" d="M745,330 L745,392 M757,326 L757,386"/>
<ellipse class="n" cx="772" cy="345" rx="14" ry="26" transform="rotate(-20 772 345)"/>
<polygon class="k" points="295,572 308,552 332,553 343,575 330,597 305,596"/>
<g transform="rotate(28 665 520)">
<rect x="625" y="500" width="38" height="36" fill="#2a2a2a" stroke="#222" stroke-width="0.6"/>
<rect x="663" y="504" width="30" height="30" fill="#fff" stroke="#222" stroke-width="0.9"/>
<path d="M633,500 L633,536 M642,500 L642,536 M651,500 L651,536" stroke="#bbb" stroke-width="0.5" fill="none"/>
</g>
<ellipse class="n" cx="700" cy="560" rx="17" ry="28" transform="rotate(10 700 560)"/>
<ellipse class="b" cx="700" cy="560" rx="17" ry="28" transform="rotate(10 700 560)"/>
<g transform="rotate(62 622 728)">
<rect x="575" y="712" width="30" height="32" fill="#2a2a2a" stroke="#222" stroke-width="0.6"/>
<rect x="605" y="704" width="36" height="48" fill="#fff" stroke="#222" stroke-width="0.9"/>
<rect x="641" y="708" width="30" height="40" fill="#fff" stroke="#222" stroke-width="0.9"/>
<path d="M617,704 L617,752 M629,704 L629,752" stroke="#222" stroke-width="0.7" fill="none"/>
</g>
<path class="k" d="M688,1030 L692,1075 C720,1140 830,1150 868,1085 L868,1035 Z"/>
<ellipse class="p" cx="778" cy="1030" rx="90" ry="62" transform="rotate(-8 778 1030)"/>
<ellipse class="b" cx="778" cy="1030" rx="90" ry="62" transform="rotate(-8 778 1030)"/>
<polygon class="p" points="718,1030 735,990 790,975 830,1000 822,1045 765,1062"/>
<path class="n" d="M718,1030 L720,1048 L765,1080 L822,1063 L822,1045"/>
<ellipse class="p" cx="772" cy="1018" rx="38" ry="28" transform="rotate(-8 772 1018)"/>
<ellipse class="b" cx="772" cy="1018" rx="38" ry="28" transform="rotate(-8 772 1018)"/>
<ellipse class="n" cx="768" cy="1022" rx="22" ry="16" transform="rotate(-8 768 1022)"/>
<path class="t" d="M760,1028 L775,1015"/>
</g>
<g transform="translate(100,1028) scale(0.33333)">
<path class="p" d="M648,410 L680,400 L690,470 L655,460 Z"/>
<ellipse class="k" cx="678" cy="438" rx="38" ry="48" transform="rotate(-147.53 678 438)"/>
<polygon points="725.77,411.5 703.77,397.5 652.23,478.5 674.23,492.5" fill="#fff" stroke="none"/>
<path class="n" d="M725.77,411.5 L703.77,397.5 M674.23,492.5 L652.23,478.5"/>
<ellipse class="k" cx="700" cy="452" rx="38" ry="48" transform="rotate(-147.53 700 452)"/>
<ellipse class="p" cx="703" cy="454" rx="36" ry="46" transform="rotate(30 703 454)"/>
<ellipse class="b" cx="703" cy="454" rx="36" ry="46" transform="rotate(30 703 454)"/>
<ellipse class="n" cx="706" cy="456" rx="26" ry="35" transform="rotate(30 706 456)"/>
<ellipse class="n" cx="709" cy="458" rx="17" ry="24" transform="rotate(30 709 458)"/>
<path class="t" d="M700,445 L722,470"/>
</g>
<g transform="translate(350,780) scale(0.18975)">
<path class="k" d="M375,140 L380,185 C390,200 420,198 428,180 L440,150 Z"/>
<ellipse class="p" cx="420" cy="130" rx="22" ry="36" transform="rotate(23.32 420 130)"/>
<polygon points="347.75,138.06 405.75,163.06 434.25,96.94 376.25,71.94" fill="#fff" stroke="none"/>
<path class="n" d="M347.75,138.06 L405.75,163.06 M376.25,71.94 L434.25,96.94"/>
<ellipse class="p" cx="362" cy="105" rx="22" ry="36" transform="rotate(23.32 362 105)"/>
<ellipse class="k" cx="378" cy="112" rx="20" ry="34" transform="rotate(24 378 112)"/>
<ellipse class="p" cx="364" cy="106" rx="20" ry="34" transform="rotate(24 364 106)"/>
<ellipse class="g" cx="362" cy="105" rx="12" ry="22" transform="rotate(24 362 105)"/>
<ellipse class="k" cx="452" cy="143" rx="18" ry="30" transform="rotate(21.8 452 143)"/>
<polygon points="420.86,162.85 440.86,170.85 463.14,115.15 443.14,107.15" fill="#fff" stroke="none"/>
<path class="n" d="M420.86,162.85 L440.86,170.85 M443.14,107.15 L463.14,115.15"/>
<ellipse class="k" cx="432" cy="135" rx="18" ry="30" transform="rotate(21.8 432 135)"/>
<ellipse class="p" cx="400" cy="160" rx="16" ry="10"/>
<ellipse class="p" cx="770" cy="285" rx="22" ry="38" transform="rotate(18.69 770 285)"/>
<polygon points="689.82,298 757.82,321 782.18,249 714.18,226" fill="#fff" stroke="none"/>
<path class="n" d="M689.82,298 L757.82,321 M714.18,226 L782.18,249"/>
<ellipse class="p" cx="702" cy="262" rx="22" ry="38" transform="rotate(18.69 702 262)"/>
<ellipse class="n" cx="702" cy="262" rx="20" ry="36" transform="rotate(20 702 262)"/>
<path class="n" d="M725,232 L712,305 M742,238 L730,310"/>
<path d="M752,245 L740,318 C760,330 790,300 790,280 C790,260 775,245 752,245 Z" fill="#222" stroke="#222" stroke-width="0.6"/>
<polygon class="p" points="95,350 100,410 150,432 165,380"/>
<path class="t" d="M108,360 L110,405 L145,420"/>
<polygon class="p" points="85,290 95,350 205,400 205,350"/>
<polygon class="p" points="205,350 235,322 238,372 205,400"/>
<polygon class="p" points="85,290 120,265 235,322 205,350"/>
<path class="n" d="M140,302 L145,372"/>
<ellipse class="p" cx="112" cy="288" rx="15" ry="11"/>
<ellipse class="b" cx="112" cy="288" rx="15" ry="11"/>
<path class="p" d="M195,395 L190,425 L230,428 L238,385 Z"/>
<path class="bb" d="M192,412 L235,415"/>
<path class="n" d="M205,430 L245,615 L235,635"/>
<path class="n" d="M222,430 L258,612 L278,650"/>
<path class="n" d="M245,615 L258,612"/>
<polyline class="n" points="798,500 798,700"/>
<ellipse class="k" cx="798" cy="545" rx="17" ry="12"/>
<ellipse class="k" cx="798" cy="620" rx="14" ry="9"/>
<ellipse class="k" cx="798" cy="710" rx="16" ry="13"/>
<path d="M790,543 L806,543" stroke="#ccc" stroke-width="0.6"/>
<path d="M790,708 L806,708" stroke="#ccc" stroke-width="0.6"/>
<path class="n" d="M798,500 L880,545 L880,670"/>
</g>
<g transform="translate(740,640) scale(0.19459)">
<polygon class="p" points="-24,869 24,757 68,764 18,881"/>
<polygon class="p" points="-239,979 -24,869 18,881 -199,1004"/>
<path class="n" d="M-239,979 L-237,991 L-199,1017 L-199,1004 M-199,1017 L18,894 L18,881"/>
<ellipse class="n" cx="-189" cy="976" rx="10" ry="5"/>
<ellipse class="n" cx="-29" cy="884" rx="10" ry="5"/>
<path class="p" d="M388,160 L388,350 C388,420 480,465 600,465 C720,465 815,420 815,350 L815,160 C815,90 720,45 600,45 C480,45 388,90 388,160 Z"/>
<path class="n" d="M388,215 C400,290 500,318 600,318 C710,318 800,288 815,205"/>
<ellipse class="n" cx="600" cy="165" rx="182" ry="97"/>
<path class="n" d="M388,330 C400,400 500,440 600,440 C710,440 800,400 815,330"/>
<path class="t" d="M392,352 C410,420 500,456 600,456 C705,456 795,420 811,352"/>
<path class="p" d="M600,545 L600,1205 C605,1240 690,1240 695,1205 L695,520 C690,480 605,480 600,520 Z"/>
<path class="n" d="M505,492 C515,520 560,540 600,545"/>
<path class="p" d="M578,480 L578,505 C585,520 612,520 618,505 L618,480"/>
<ellipse class="p" cx="672" cy="484" rx="10" ry="14" transform="rotate(-156.04 672 484)"/>
<polygon points="695.69,479.21 677.69,471.21 666.31,496.79 684.31,504.79" fill="#fff" stroke="none"/>
<path class="n" d="M695.69,479.21 L677.69,471.21 M684.31,504.79 L666.31,496.79"/>
<ellipse class="p" cx="690" cy="492" rx="10" ry="14" transform="rotate(-156.04 690 492)"/>
<ellipse class="p" cx="695" cy="1028" rx="9" ry="17" transform="rotate(-154.36 695 1028)"/>
<polygon points="752.36,1036.67 702.36,1012.67 687.64,1043.33 737.64,1067.33" fill="#fff" stroke="none"/>
<path class="n" d="M752.36,1036.67 L702.36,1012.67 M737.64,1067.33 L687.64,1043.33"/>
<ellipse class="p" cx="745" cy="1052" rx="9" ry="17" transform="rotate(-154.36 745 1052)"/>
<polygon class="p" points="70,455 235,360 600,570 435,660"/>
<polygon class="p" points="435,660 600,570 600,900 435,990"/>
<polygon class="p" points="70,455 435,660 435,990 70,790"/>
<path d="M503,495 C503,540 560,566 612,563 C662,560 700,532 700,497 L695,470 L505,470 Z" fill="#fff" stroke="none"/>
<path class="n" d="M503,495 C503,540 560,566 612,563 C662,560 700,532 700,497"/>
<path class="p" d="M578,480 L578,505 C585,520 612,520 618,505 L618,480"/>
<ellipse class="p" cx="672" cy="484" rx="10" ry="14" transform="rotate(-156.04 672 484)"/>
<polygon points="695.69,479.21 677.69,471.21 666.31,496.79 684.31,504.79" fill="#fff" stroke="none"/>
<path class="n" d="M695.69,479.21 L677.69,471.21 M684.31,504.79 L666.31,496.79"/>
<ellipse class="p" cx="690" cy="492" rx="10" ry="14" transform="rotate(-156.04 690 492)"/>
<path class="n" d="M600,563 L600,600 M695,540 L695,600"/>
<polygon points="105,505 380,657 380,719 105,567" fill="#3a3a3a" stroke="#222" stroke-width="0.5"/>
<line x1="115.6" y1="513.86" x2="115.6" y2="569.86" stroke="#d8d8d8" stroke-width="0.45"/>
<line x1="126.2" y1="519.72" x2="126.2" y2="575.72" stroke="#d8d8d8" stroke-width="0.45"/>
<line x1="136.8" y1="525.58" x2="136.8" y2="581.58" stroke="#d8d8d8" stroke-width="0.45"/>
<line x1="147.4" y1="531.44" x2="147.4" y2="587.44" stroke="#d8d8d8" stroke-width="0.45"/>
<line x1="158" y1="537.29" x2="158" y2="593.29" stroke="#d8d8d8" stroke-width="0.45"/>
<line x1="168.6" y1="543.15" x2="168.6" y2="599.15" stroke="#d8d8d8" stroke-width="0.45"/>
<line x1="179.2" y1="549.01" x2="179.2" y2="605.01" stroke="#d8d8d8" stroke-width="0.45"/>
<line x1="189.8" y1="554.87" x2="189.8" y2="610.87" stroke="#d8d8d8" stroke-width="0.45"/>
<line x1="200.4" y1="560.73" x2="200.4" y2="616.73" stroke="#d8d8d8" stroke-width="0.45"/>
<line x1="211" y1="566.59" x2="211" y2="622.59" stroke="#d8d8d8" stroke-width="0.45"/>
<line x1="221.6" y1="572.45" x2="221.6" y2="628.45" stroke="#d8d8d8" stroke-width="0.45"/>
<line x1="232.2" y1="578.31" x2="232.2" y2="634.31" stroke="#d8d8d8" stroke-width="0.45"/>
<line x1="242.8" y1="584.17" x2="242.8" y2="640.17" stroke="#d8d8d8" stroke-width="0.45"/>
<line x1="253.4" y1="590.02" x2="253.4" y2="646.02" stroke="#d8d8d8" stroke-width="0.45"/>
<line x1="264" y1="595.88" x2="264" y2="651.88" stroke="#d8d8d8" stroke-width="0.45"/>
<line x1="274.6" y1="601.74" x2="274.6" y2="657.74" stroke="#d8d8d8" stroke-width="0.45"/>
<line x1="285.2" y1="607.6" x2="285.2" y2="663.6" stroke="#d8d8d8" stroke-width="0.45"/>
<line x1="295.8" y1="613.46" x2="295.8" y2="669.46" stroke="#d8d8d8" stroke-width="0.45"/>
<line x1="306.4" y1="619.32" x2="306.4" y2="675.32" stroke="#d8d8d8" stroke-width="0.45"/>
<line x1="317" y1="625.18" x2="317" y2="681.18" stroke="#d8d8d8" stroke-width="0.45"/>
<line x1="327.6" y1="631.04" x2="327.6" y2="687.04" stroke="#d8d8d8" stroke-width="0.45"/>
<line x1="338.2" y1="636.9" x2="338.2" y2="692.9" stroke="#d8d8d8" stroke-width="0.45"/>
<line x1="348.8" y1="642.75" x2="348.8" y2="698.75" stroke="#d8d8d8" stroke-width="0.45"/>
<line x1="359.4" y1="648.61" x2="359.4" y2="704.61" stroke="#d8d8d8" stroke-width="0.45"/>
<line x1="370" y1="654.47" x2="370" y2="710.47" stroke="#d8d8d8" stroke-width="0.45"/>
<polygon points="105,577 380,729 380,791 105,639" fill="#3a3a3a" stroke="#222" stroke-width="0.5"/>
<line x1="115.6" y1="585.86" x2="115.6" y2="641.86" stroke="#d8d8d8" stroke-width="0.45"/>
<line x1="126.2" y1="591.72" x2="126.2" y2="647.72" stroke="#d8d8d8" stroke-width="0.45"/>
<line x1="136.8" y1="597.58" x2="136.8" y2="653.58" stroke="#d8d8d8" stroke-width="0.45"/>
<line x1="147.4" y1="603.44" x2="147.4" y2="659.44" stroke="#d8d8d8" stroke-width="0.45"/>
<line x1="158" y1="609.29" x2="158" y2="665.29" stroke="#d8d8d8" stroke-width="0.45"/>
<line x1="168.6" y1="615.15" x2="168.6" y2="671.15" stroke="#d8d8d8" stroke-width="0.45"/>
<line x1="179.2" y1="621.01" x2="179.2" y2="677.01" stroke="#d8d8d8" stroke-width="0.45"/>
<line x1="189.8" y1="626.87" x2="189.8" y2="682.87" stroke="#d8d8d8" stroke-width="0.45"/>
<line x1="200.4" y1="632.73" x2="200.4" y2="688.73" stroke="#d8d8d8" stroke-width="0.45"/>
<line x1="211" y1="638.59" x2="211" y2="694.59" stroke="#d8d8d8" stroke-width="0.45"/>
<line x1="221.6" y1="644.45" x2="221.6" y2="700.45" stroke="#d8d8d8" stroke-width="0.45"/>
<line x1="232.2" y1="650.31" x2="232.2" y2="706.31" stroke="#d8d8d8" stroke-width="0.45"/>
<line x1="242.8" y1="656.17" x2="242.8" y2="712.17" stroke="#d8d8d8" stroke-width="0.45"/>
<line x1="253.4" y1="662.02" x2="253.4" y2="718.02" stroke="#d8d8d8" stroke-width="0.45"/>
<line x1="264" y1="667.88" x2="264" y2="723.88" stroke="#d8d8d8" stroke-width="0.45"/>
<line x1="274.6" y1="673.74" x2="274.6" y2="729.74" stroke="#d8d8d8" stroke-width="0.45"/>
<line x1="285.2" y1="679.6" x2="285.2" y2="735.6" stroke="#d8d8d8" stroke-width="0.45"/>
<line x1="295.8" y1="685.46" x2="295.8" y2="741.46" stroke="#d8d8d8" stroke-width="0.45"/>
<line x1="306.4" y1="691.32" x2="306.4" y2="747.32" stroke="#d8d8d8" stroke-width="0.45"/>
<line x1="317" y1="697.18" x2="317" y2="753.18" stroke="#d8d8d8" stroke-width="0.45"/>
<line x1="327.6" y1="703.04" x2="327.6" y2="759.04" stroke="#d8d8d8" stroke-width="0.45"/>
<line x1="338.2" y1="708.9" x2="338.2" y2="764.9" stroke="#d8d8d8" stroke-width="0.45"/>
<line x1="348.8" y1="714.75" x2="348.8" y2="770.75" stroke="#d8d8d8" stroke-width="0.45"/>
<line x1="359.4" y1="720.61" x2="359.4" y2="776.61" stroke="#d8d8d8" stroke-width="0.45"/>
<line x1="370" y1="726.47" x2="370" y2="782.47" stroke="#d8d8d8" stroke-width="0.45"/>
<polygon points="105,649 380,801 380,863 105,711" fill="#3a3a3a" stroke="#222" stroke-width="0.5"/>
<line x1="115.6" y1="657.86" x2="115.6" y2="713.86" stroke="#d8d8d8" stroke-width="0.45"/>
<line x1="126.2" y1="663.72" x2="126.2" y2="719.72" stroke="#d8d8d8" stroke-width="0.45"/>
<line x1="136.8" y1="669.58" x2="136.8" y2="725.58" stroke="#d8d8d8" stroke-width="0.45"/>
<line x1="147.4" y1="675.44" x2="147.4" y2="731.44" stroke="#d8d8d8" stroke-width="0.45"/>
<line x1="158" y1="681.29" x2="158" y2="737.29" stroke="#d8d8d8" stroke-width="0.45"/>
<line x1="168.6" y1="687.15" x2="168.6" y2="743.15" stroke="#d8d8d8" stroke-width="0.45"/>
<line x1="179.2" y1="693.01" x2="179.2" y2="749.01" stroke="#d8d8d8" stroke-width="0.45"/>
<line x1="189.8" y1="698.87" x2="189.8" y2="754.87" stroke="#d8d8d8" stroke-width="0.45"/>
<line x1="200.4" y1="704.73" x2="200.4" y2="760.73" stroke="#d8d8d8" stroke-width="0.45"/>
<line x1="211" y1="710.59" x2="211" y2="766.59" stroke="#d8d8d8" stroke-width="0.45"/>
<line x1="221.6" y1="716.45" x2="221.6" y2="772.45" stroke="#d8d8d8" stroke-width="0.45"/>
<line x1="232.2" y1="722.31" x2="232.2" y2="778.31" stroke="#d8d8d8" stroke-width="0.45"/>
<line x1="242.8" y1="728.17" x2="242.8" y2="784.17" stroke="#d8d8d8" stroke-width="0.45"/>
<line x1="253.4" y1="734.02" x2="253.4" y2="790.02" stroke="#d8d8d8" stroke-width="0.45"/>
<line x1="264" y1="739.88" x2="264" y2="795.88" stroke="#d8d8d8" stroke-width="0.45"/>
<line x1="274.6" y1="745.74" x2="274.6" y2="801.74" stroke="#d8d8d8" stroke-width="0.45"/>
<line x1="285.2" y1="751.6" x2="285.2" y2="807.6" stroke="#d8d8d8" stroke-width="0.45"/>
<line x1="295.8" y1="757.46" x2="295.8" y2="813.46" stroke="#d8d8d8" stroke-width="0.45"/>
<line x1="306.4" y1="763.32" x2="306.4" y2="819.32" stroke="#d8d8d8" stroke-width="0.45"/>
<line x1="317" y1="769.18" x2="317" y2="825.18" stroke="#d8d8d8" stroke-width="0.45"/>
<line x1="327.6" y1="775.04" x2="327.6" y2="831.04" stroke="#d8d8d8" stroke-width="0.45"/>
<line x1="338.2" y1="780.9" x2="338.2" y2="836.9" stroke="#d8d8d8" stroke-width="0.45"/>
<line x1="348.8" y1="786.75" x2="348.8" y2="842.75" stroke="#d8d8d8" stroke-width="0.45"/>
<line x1="359.4" y1="792.61" x2="359.4" y2="848.61" stroke="#d8d8d8" stroke-width="0.45"/>
<line x1="370" y1="798.47" x2="370" y2="854.47" stroke="#d8d8d8" stroke-width="0.45"/>
<polygon points="105,721 380,873 380,935 105,783" fill="#3a3a3a" stroke="#222" stroke-width="0.5"/>
<line x1="115.6" y1="729.86" x2="115.6" y2="785.86" stroke="#d8d8d8" stroke-width="0.45"/>
<line x1="126.2" y1="735.72" x2="126.2" y2="791.72" stroke="#d8d8d8" stroke-width="0.45"/>
<line x1="136.8" y1="741.58" x2="136.8" y2="797.58" stroke="#d8d8d8" stroke-width="0.45"/>
<line x1="147.4" y1="747.44" x2="147.4" y2="803.44" stroke="#d8d8d8" stroke-width="0.45"/>
<line x1="158" y1="753.29" x2="158" y2="809.29" stroke="#d8d8d8" stroke-width="0.45"/>
<line x1="168.6" y1="759.15" x2="168.6" y2="815.15" stroke="#d8d8d8" stroke-width="0.45"/>
<line x1="179.2" y1="765.01" x2="179.2" y2="821.01" stroke="#d8d8d8" stroke-width="0.45"/>
<line x1="189.8" y1="770.87" x2="189.8" y2="826.87" stroke="#d8d8d8" stroke-width="0.45"/>
<line x1="200.4" y1="776.73" x2="200.4" y2="832.73" stroke="#d8d8d8" stroke-width="0.45"/>
<line x1="211" y1="782.59" x2="211" y2="838.59" stroke="#d8d8d8" stroke-width="0.45"/>
<line x1="221.6" y1="788.45" x2="221.6" y2="844.45" stroke="#d8d8d8" stroke-width="0.45"/>
<line x1="232.2" y1="794.31" x2="232.2" y2="850.31" stroke="#d8d8d8" stroke-width="0.45"/>
<line x1="242.8" y1="800.17" x2="242.8" y2="856.17" stroke="#d8d8d8" stroke-width="0.45"/>
<line x1="253.4" y1="806.02" x2="253.4" y2="862.02" stroke="#d8d8d8" stroke-width="0.45"/>
<line x1="264" y1="811.88" x2="264" y2="867.88" stroke="#d8d8d8" stroke-width="0.45"/>
<line x1="274.6" y1="817.74" x2="274.6" y2="873.74" stroke="#d8d8d8" stroke-width="0.45"/>
<line x1="285.2" y1="823.6" x2="285.2" y2="879.6" stroke="#d8d8d8" stroke-width="0.45"/>
<line x1="295.8" y1="829.46" x2="295.8" y2="885.46" stroke="#d8d8d8" stroke-width="0.45"/>
<line x1="306.4" y1="835.32" x2="306.4" y2="891.32" stroke="#d8d8d8" stroke-width="0.45"/>
<line x1="317" y1="841.18" x2="317" y2="897.18" stroke="#d8d8d8" stroke-width="0.45"/>
<line x1="327.6" y1="847.04" x2="327.6" y2="903.04" stroke="#d8d8d8" stroke-width="0.45"/>
<line x1="338.2" y1="852.9" x2="338.2" y2="908.9" stroke="#d8d8d8" stroke-width="0.45"/>
<line x1="348.8" y1="858.75" x2="348.8" y2="914.75" stroke="#d8d8d8" stroke-width="0.45"/>
<line x1="359.4" y1="864.61" x2="359.4" y2="920.61" stroke="#d8d8d8" stroke-width="0.45"/>
<line x1="370" y1="870.47" x2="370" y2="926.47" stroke="#d8d8d8" stroke-width="0.45"/>
<rect x="338" y="660" width="34" height="36" fill="#fff" stroke="#222" stroke-width="0.6"/>
<path class="n" d="M345,668 L365,668 L365,690 M345,680 L358,680"/>
<ellipse class="p" cx="550" cy="682" rx="14" ry="24" transform="rotate(27.44 550 682)"/>
<polygon points="486.94,676.3 538.94,703.3 561.06,660.7 509.06,633.7" fill="#fff" stroke="none"/>
<path class="n" d="M486.94,676.3 L538.94,703.3 M509.06,633.7 L561.06,660.7"/>
<ellipse class="p" cx="498" cy="655" rx="14" ry="24" transform="rotate(27.44 498 655)"/>
<ellipse class="b" cx="498" cy="655" rx="14" ry="24" transform="rotate(27 498 655)"/>
<path class="n" d="M515,640 L508,685 M528,646 L520,690"/>
<path class="p" d="M548,672 C575,680 582,700 578,730 L548,728 C550,712 545,700 535,698 Z"/>
<rect x="548" y="725" width="30" height="30" fill="#2a2a2a" stroke="#222" stroke-width="0.5"/>
<path class="n" d="M565,755 L565,825 L650,785"/>
<path class="n" d="M710,745 L790,700 L790,760"/>
<path class="p" d="M520,940 L630,895 L655,910 L655,990 L600,1018 L600,940 L540,965"/>
<path class="n" d="M600,940 L630,925 L630,1000"/>
<ellipse class="p" cx="505" cy="978" rx="14" ry="24" transform="rotate(23.39 505 978)"/>
<polygon points="458.47,984.03 495.47,1000.03 514.53,955.97 477.53,939.97" fill="#fff" stroke="none"/>
<path class="n" d="M458.47,984.03 L495.47,1000.03 M477.53,939.97 L514.53,955.97"/>
<ellipse class="p" cx="468" cy="962" rx="14" ry="24" transform="rotate(23.39 468 962)"/>
<ellipse class="b" cx="468" cy="962" rx="14" ry="24" transform="rotate(24 468 962)"/>
<ellipse class="p" cx="548" cy="1000" rx="14" ry="22" transform="rotate(24.44 548 1000)"/>
<polygon points="505.9,1005.03 538.9,1020.03 557.1,979.97 524.1,964.97" fill="#fff" stroke="none"/>
<path class="n" d="M505.9,1005.03 L538.9,1020.03 M524.1,964.97 L557.1,979.97"/>
<ellipse class="p" cx="515" cy="985" rx="14" ry="22" transform="rotate(24.44 515 985)"/>
<ellipse class="k" cx="545" cy="975" rx="16" ry="14"/>
<ellipse class="k" cx="565" cy="992" rx="10" ry="14"/>
<polygon class="p" points="490,1010 560,1000 565,1230 500,1200"/>
<path class="p" d="M510,1035 L535,1030 L535,1075 L520,1078 L520,1060 L510,1062 Z"/>
<path class="p" d="M515,1100 L540,1095 L540,1135 L528,1138 L528,1120 L515,1122 Z"/>
<ellipse class="p" cx="497" cy="1165" rx="28" ry="30"/>
<ellipse class="n" cx="497" cy="1165" rx="10" ry="11"/>
<polygon class="p" points="560,1000 600,992 600,1222 565,1230"/>
<path class="p" d="M588,1235 L588,1262 L612,1262 L612,1238"/>
<path d="M600,1262 C600,1330 620,1400 675,1465" fill="none" stroke="#2b2b2b" stroke-width="2.9"/>
<path d="M600,1262 C600,1330 620,1400 675,1465" fill="none" stroke="#fff" stroke-width="1.3"/>
<polyline class="n" points="668,1470 682,1460"/>
<polygon class="p" points="390,1110 438,998 482,1005 432,1122"/>
<path class="n" d="M438,998 L450,985 L492,992 L482,1005"/>
<polygon class="p" points="175,1220 390,1110 432,1122 215,1245"/>
<path class="n" d="M175,1220 L177,1232 L215,1258 L215,1245 M215,1258 L432,1135 L432,1122"/>
<ellipse class="n" cx="225" cy="1217" rx="10" ry="5"/>
<ellipse class="n" cx="385" cy="1125" rx="10" ry="5"/>
<path class="k" d="M212,1097 L212,1140 L228,1140 L228,1097 Z"/>
<polygon class="p" points="203,1080 210,1071 230,1071 237,1080 234,1097 206,1097"/>
<path class="b" d="M203,1082 L237,1082"/>
<polyline class="n" points="220,1147 220,1169"/>
<polyline class="n" points="220,1183 220,1209"/>
<path class="k" d="M377,1010 L377,1053 L393,1053 L393,1010 Z"/>
<polygon class="p" points="368,993 375,984 395,984 402,993 399,1010 371,1010"/>
<path class="b" d="M368,995 L402,995"/>
<polyline class="n" points="385,1060 385,1082"/>
<polyline class="n" points="385,1096 385,1122"/>
<path class="k" d="M-197,870 L-197,913 L-181,913 L-181,870 Z"/>
<polygon class="p" points="-206,853 -199,844 -179,844 -172,853 -175,870 -203,870"/>
<path class="b" d="M-206,855 L-172,855"/>
<polyline class="n" points="-189,920 -189,942"/>
<polyline class="n" points="-189,956 -189,982"/>
<path class="k" d="M-32,777 L-32,820 L-16,820 L-16,777 Z"/>
<polygon class="p" points="-41,760 -34,751 -14,751 -7,760 -10,777 -38,777"/>
<path class="b" d="M-41,762 L-7,762"/>
<polyline class="n" points="-24,827 -24,849"/>
<polyline class="n" points="-24,863 -24,889"/>
<ellipse class="p" cx="145" cy="1365" rx="25" ry="33" transform="rotate(-15 145 1365)"/>
<ellipse class="n" cx="147" cy="1365" rx="11" ry="15" transform="rotate(-15 147 1365)"/>
<ellipse class="n" cx="142" cy="1367" rx="25" ry="33" transform="rotate(-15 142 1367)"/>
<polygon class="p" points="763,770 772,758 808,758 817,770 817,812 763,812"/>
<ellipse class="k" cx="790" cy="760" rx="22" ry="8"/>
<path class="n" d="M779,770 L779,812 M801,770 L801,812"/>
<rect x="774" y="812" width="32" height="42" fill="#2a2a2a" stroke="#222" stroke-width="0.5"/>
<path d="M774,822 L806,822 M774,832 L806,832 M774,842 L806,842" stroke="#bbb" stroke-width="0.5" fill="none"/>
<polyline class="n" points="790,855 790,895"/>
</g>
<g transform="translate(580,740) scale(0.13283)">
<path class="p" d="M285,215 C290,180 330,130 420,115 L760,300 C790,310 805,340 800,370 L780,480 L722,490 C700,495 690,500 640,515 L620,510 L280,330 Z"/>
<path class="n" d="M285,215 L650,400 M290,228 L645,410"/>
<path class="n" d="M650,400 C660,350 700,312 760,300 M650,400 L640,515"/>
<path class="t" d="M664,404 C674,362 706,328 760,316"/>
<path class="t" d="M282,318 L622,498"/>
<ellipse class="n" cx="730" cy="390" rx="8" ry="28" transform="rotate(15 730 390)"/>
<ellipse class="n" cx="330" cy="290" rx="20" ry="23"/>
<ellipse class="t" cx="334" cy="292" rx="13" ry="16"/>
<ellipse class="g" cx="160" cy="325" rx="20" ry="29" transform="rotate(-20.38 160 325)"/>
<polygon points="135.1,365.19 170.1,352.19 149.9,297.81 114.9,310.81" fill="#fff" stroke="none"/>
<path class="n" d="M135.1,365.19 L170.1,352.19 M114.9,310.81 L149.9,297.81"/>
<ellipse class="g" cx="125" cy="338" rx="20" ry="29" transform="rotate(-20.38 125 338)"/>
<ellipse class="b" cx="125" cy="338" rx="20" ry="29" transform="rotate(-20 125 338)"/>
<ellipse class="p" cx="127" cy="338" rx="9" ry="14" transform="rotate(-20 127 338)"/>
<polyline class="n" points="182,325 305,295"/>
</g>
<g transform="translate(500,970) scale(0.22770)">
<path class="n" d="M695,358 L725,378"/>
<ellipse class="k" cx="712" cy="367" rx="11" ry="13"/>
<ellipse class="lg" cx="712" cy="367" rx="5" ry="6"/>
<ellipse class="k" cx="757" cy="397" rx="13" ry="12"/>
<path class="bb" d="M740,385 L752,392"/>
<ellipse class="lg" cx="762" cy="400" rx="6" ry="6"/>
<ellipse class="p" cx="800" cy="226" rx="22" ry="29" transform="rotate(-15 800 226)"/>
<ellipse class="b" cx="800" cy="226" rx="22" ry="29" transform="rotate(-15 800 226)"/>
<ellipse class="n" cx="803" cy="226" rx="8" ry="11" transform="rotate(-15 803 226)"/>
<ellipse class="p" cx="902" cy="172" rx="22" ry="34" transform="rotate(-28.44 902 172)"/>
<polygon points="894.19,214.9 918.19,201.9 885.81,142.1 861.81,155.1" fill="#fff" stroke="none"/>
<path class="n" d="M894.19,214.9 L918.19,201.9 M861.81,155.1 L885.81,142.1"/>
<ellipse class="p" cx="878" cy="185" rx="22" ry="34" transform="rotate(-28.44 878 185)"/>
<ellipse class="b" cx="878" cy="185" rx="22" ry="34" transform="rotate(-28 878 185)"/>
<ellipse class="n" cx="878" cy="186" rx="5" ry="7"/>
<path class="bb" d="M930,155 L965,135"/>
<path d="M930,157 L958,141" stroke="#222" stroke-width="2.6" fill="none"/>
<ellipse class="k" cx="962" cy="134" rx="11" ry="14" transform="rotate(-28 962 134)"/>
<polyline class="n" points="675,235 735,265 775,250"/>
<polyline class="n" points="828,213 858,198"/>
</g>
<g transform="translate(0,0) scale(1.00000)">
<polyline class="n" points="651,1098 660.3,1103 660.3,1131.3"/>
<ellipse class="p" cx="660.3" cy="1117.3" rx="3.2" ry="1.8"/>
<ellipse class="b" cx="660.3" cy="1117.3" rx="3.2" ry="1.8"/>
<rect x="657.6" y="1131" width="5.4" height="5" rx="1" fill="#222"/>
<rect x="659" y="1132" width="2.4" height="1.5" fill="#ccc"/>
<ellipse class="k" cx="478.4" cy="948.2" rx="2.6" ry="2.6"/>
<ellipse class="lg" cx="477.8" cy="947.6" rx="1" ry="1"/>
<path class="bb" d="M480.5,949.6 L486,953"/>
<ellipse class="k" cx="488" cy="953.8" rx="2.6" ry="2.2"/>
<polyline class="n" points="490,955 499.7,960.4"/>
</g>
<g transform="translate(100,1028) scale(0.33333)">
<polyline class="n" points="800,1030 800,995 840,970"/>
<ellipse class="p" cx="800" cy="1038" rx="11" ry="6"/>
<ellipse class="b" cx="800" cy="1038" rx="11" ry="6"/>
<ellipse class="n" cx="800" cy="1038" rx="5" ry="2.5"/>
<rect x="792" y="1075" width="16" height="15" rx="2" fill="#222"/>
<rect x="795" y="1077" width="10" height="3" fill="#bbb"/>
<polyline class="n" points="800,1044 800,1075"/>
<path class="p" d="M893,1158 L893,1180 C900,1200 950,1200 956,1180 L956,1158 Z"/>
<path class="n" d="M893,1170 C905,1188 945,1188 956,1170"/>
<ellipse class="p" cx="924.5" cy="1157" rx="31.5" ry="15.5"/>
<ellipse class="k" cx="924.5" cy="1158" rx="4" ry="2.2"/>
<ellipse class="p" cx="925" cy="1264" rx="12" ry="6"/>
<ellipse class="b" cx="925" cy="1264" rx="12" ry="6"/>
<ellipse class="n" cx="925" cy="1264" rx="5" ry="2.4"/>
<rect x="921.5" y="1318" width="7" height="14" fill="#333"/>
<rect x="916" y="1330" width="18" height="20" rx="7" fill="#222"/>
<rect x="920" y="1343" width="10" height="3" fill="#aaa"/>
</g>
<g transform="translate(480,1360) scale(0.18975)">
<polyline class="n" points="168,0 168,75"/>
<rect x="152" y="76" width="32" height="34" rx="6" fill="#222"/>
<path class="p" d="M145,108 L145,138 C150,155 185,155 190,138 L190,108 Z"/>
<path class="b" d="M145,118 L190,118 M147,128 L188,128"/>
<rect x="190" y="108" width="12" height="30" fill="#fff" stroke="#222" stroke-width="0.8"/>
<rect x="202" y="102" width="30" height="40" fill="#fff" stroke="#222" stroke-width="0.9"/>
<rect x="232" y="104" width="14" height="36" fill="#222"/>
<polyline class="n" points="246,125 325,128"/>
<rect x="305" y="412" width="12" height="42" rx="3" fill="#fff" stroke="#222" stroke-width="0.9"/>
<rect x="317" y="410" width="12" height="46" rx="3" fill="#fff" stroke="#222" stroke-width="0.9"/>
<rect x="329" y="412" width="12" height="42" rx="3" fill="#fff" stroke="#222" stroke-width="0.9"/>
<rect x="341" y="414" width="34" height="36" fill="#555" stroke="#222" stroke-width="0.7"/>
<path d="M350,414 L350,450 M359,414 L359,450 M368,414 L368,450" stroke="#ddd" stroke-width="0.5"/>
<polyline class="n" points="195,435 305,435"/>
<polyline class="n" points="375,431 415,431"/>
<polyline class="n" points="490,427 540,427"/>
<polyline class="n" points="660,422 700,422"/>
<polyline class="n" points="775,418 830,416"/>
<path class="p" d="M590,400 C590,370 605,358 622,362 C636,366 640,378 640,400"/>
<path class="n" d="M600,400 C600,380 610,370 622,372"/>
<rect x="540" y="397" width="22" height="58" rx="5" fill="#fff" stroke="#222" stroke-width="0.9"/>
<rect x="560" y="400" width="82" height="52" fill="#fff" stroke="#222" stroke-width="0.9"/>
<rect x="640" y="398" width="20" height="56" fill="#333" stroke="#222" stroke-width="0.6"/>
<path d="M647,398 L647,454 M654,398 L654,454" stroke="#ccc" stroke-width="0.5"/>
<rect x="830" y="398" width="22" height="34" fill="#222"/>
<rect x="852" y="394" width="38" height="42" fill="#fff" stroke="#222" stroke-width="0.9"/>
<rect x="890" y="396" width="28" height="38" fill="#fff" stroke="#222" stroke-width="0.9"/>
<path class="p" d="M855,394 C852,365 862,355 872,356 C884,357 888,370 886,394"/>
<path class="n" d="M862,394 C862,375 866,368 872,368 C878,368 880,378 879,394"/>
<path class="t" d="M858,400 L884,430 M884,400 L858,430"/>
</g>
<g transform="translate(690,1100) scale(0.15180)">
<polyline class="n" points="755,115 630,228"/>
<ellipse class="k" cx="765" cy="90" rx="31" ry="28"/>
<ellipse class="p" cx="880" cy="292" rx="5" ry="11" transform="rotate(10.39 880 292)"/>
<polygon points="638.02,258.82 878.02,302.82 881.98,281.18 641.98,237.18" fill="#fff" stroke="none"/>
<path class="n" d="M638.02,258.82 L878.02,302.82 M641.98,237.18 L881.98,281.18"/>
<ellipse class="p" cx="640" cy="248" rx="5" ry="11" transform="rotate(10.39 640 248)"/>
<path class="p" d="M510,215 L540,195 L620,208 L640,225 L640,295 L520,295 Z"/>
<path class="n" d="M510,215 L590,228 L620,208 M590,228 L590,290"/>
<path class="p" d="M365,290 C365,270 385,255 405,257 L630,292 C645,296 645,340 630,350 L600,375 L370,338 Z"/>
<path class="n" d="M368,312 L600,350 L640,318 M385,270 L610,305"/>
<ellipse class="k" cx="465" cy="265" rx="12" ry="14"/>
<path class="bb" d="M455,250 L478,250"/>
<path class="p" d="M478,395 L520,372 L640,385 L640,480 L600,510 L478,490 Z"/>
<path class="n" d="M478,395 L600,412 L640,385 M600,412 L600,510"/>
<ellipse class="n" cx="622" cy="448" rx="10" ry="30"/>
<path class="n" d="M420,360 L420,385 M470,362 L478,395 M520,350 L520,372"/>
<polygon class="p" points="380,400 425,385 470,410 470,462 425,480 383,455"/>
<ellipse class="p" cx="425" cy="432" rx="19" ry="20"/>
<ellipse class="n" cx="425" cy="432" rx="9" ry="10"/>
<path class="n" d="M400,380 L440,372 L470,410"/>
<g transform="rotate(26 178 1152)">
<rect x="72" y="1128" width="62" height="50" rx="4" fill="#2a2a2a" stroke="#222" stroke-width="0.6"/>
<rect x="134" y="1122" width="66" height="62" fill="#fff" stroke="#222" stroke-width="0.9"/>
<path d="M134,1142 L200,1142 M134,1164 L200,1164" stroke="#222" stroke-width="0.7" fill="none"/>
<rect x="200" y="1126" width="16" height="54" fill="#fff" stroke="#222" stroke-width="0.9"/>
<rect x="216" y="1130" width="58" height="46" rx="4" fill="#2a2a2a" stroke="#222" stroke-width="0.6"/>
<path d="M82,1128 L82,1178 M94,1128 L94,1178 M106,1128 L106,1178 M118,1128 L118,1178 M228,1130 L228,1176 M240,1130 L240,1176 M252,1130 L252,1176" stroke="#999" stroke-width="0.45" fill="none"/>
</g>
</g>
<g transform="translate(700,1270) scale(0.13283)">
<path class="p" d="M630,590 L630,800 C640,850 820,850 830,800 L830,560 Z"/>
<path class="n" d="M630,600 L690,622 L690,832"/>
<rect x="648" y="640" width="12" height="150" fill="#fff" stroke="#222" stroke-width="0.9"/>
<path class="b" d="M654,650 L654,780"/>
<path class="p" d="M715,835 L715,878 C720,890 750,890 755,878 L755,838"/>
<path class="t" d="M640,810 C680,835 790,835 822,805"/>
<polygon class="p" points="575,320 590,530 720,600 740,400"/>
<polygon class="p" points="740,400 890,320 885,520 720,600"/>
<polygon class="p" points="575,320 710,255 890,320 740,400"/>
<path class="n" d="M720,600 L720,565 L885,490"/>
<polygon class="p" points="760,405 862,368 866,480 770,522"/>
<path class="n" d="M770,522 L770,500 L866,458"/>
<ellipse class="k" cx="812" cy="445" rx="30" ry="36"/>
<ellipse class="p" cx="640" cy="455" rx="16" ry="18"/>
<ellipse class="g" cx="640" cy="455" rx="8" ry="9"/>
<ellipse class="p" cx="735" cy="305" rx="108" ry="42"/>
<ellipse class="p" cx="735" cy="290" rx="108" ry="42"/>
<ellipse class="p" cx="735" cy="270" rx="104" ry="40"/>
<ellipse class="bb" cx="735" cy="270" rx="104" ry="40"/>
<path class="p" d="M650,110 L652,250 C670,285 800,285 820,250 L820,110 Z"/>
<ellipse class="p" cx="735" cy="110" rx="85" ry="36"/>
<ellipse class="b" cx="735" cy="110" rx="85" ry="36"/>
<path class="b" d="M668,150 L668,268"/>
<path class="b" d="M690,150 L690,268"/>
<path class="b" d="M716,150 L716,268"/>
<path class="b" d="M745,150 L745,268"/>
<path class="b" d="M772,150 L772,268"/>
<path class="b" d="M796,150 L796,268"/>
<ellipse class="p" cx="200" cy="692" rx="75" ry="108" transform="rotate(-25.02 200 692)"/>
<polygon points="185.67,817.87 245.67,789.87 154.33,594.13 94.33,622.13" fill="#fff" stroke="none"/>
<path class="n" d="M185.67,817.87 L245.67,789.87 M94.33,622.13 L154.33,594.13"/>
<ellipse class="p" cx="140" cy="720" rx="75" ry="108" transform="rotate(-25.02 140 720)"/>
<ellipse class="b" cx="140" cy="720" rx="75" ry="108" transform="rotate(-25 140 720)"/>
<ellipse class="n" cx="146" cy="718" rx="62" ry="92" transform="rotate(-25 146 718)"/>
<ellipse class="k" cx="150" cy="730" rx="4" ry="4"/>
</g>
<polyline class="ds" points="572.6,659.6 572.6,672.2"/>
<polyline class="ds" points="572.6,675.6 572.6,683.6"/>
<polyline class="ds" points="572.6,705.5 572.6,710.7"/>
<polyline class="ds" points="572.6,717.3 572.6,750.7"/>
<polyline class="ds" points="572.6,759 572.6,792.3"/>
<polyline class="ds" points="572.6,800.7 572.6,834"/>
<polyline class="ds" points="572.6,842.3 572.6,875.7"/>
<polyline class="ds" points="572.6,884 572.6,917.3"/>
<polyline class="ds" points="572.6,925.7 572.6,959"/>
<polyline class="ds" points="572.6,967.3 572.6,995"/>
<polyline class="ds" points="572.6,1004 572.6,1028"/>
<polyline class="ds" points="572.6,1038 572.6,1048.6"/>
<polyline class="ds" points="572.4,1048.6 582,1056.5"/>
<polyline class="ds" points="594.5,1064.5 609.3,1073.6"/>
<polyline class="ds" points="623,1081.6 636.6,1089.5"/>
<polyline class="ds" points="521.7,674 521.7,700.7"/>
<polyline class="ds" points="521.7,705.7 521.7,712.3"/>
<polyline class="ds" points="304.8,552.5 304.8,562.5"/>
<polyline class="ds" points="304.8,577.4 304.8,589"/>
<polyline class="ds" points="356.2,542.5 356.2,561"/>
<polyline class="ds" points="219.8,911.3 221.5,912.2"/>
<polyline class="ds" points="227.5,915.6 231.7,918.2"/>
<polyline class="ds" points="197.6,934.4 201.8,937"/>
<polyline class="ds" points="207.8,940.4 212.9,942.9"/>
<polyline class="ds" points="276.1,944.3 280.4,946.4"/>
<polyline class="ds" points="218.1,983.9 228.3,972"/>
<polyline class="ds" points="261.6,972 265.9,974.5"/>
<polyline class="ds" points="243.7,969.4 250.5,983.1"/>
<polyline class="ds" points="257.3,995.9 262.5,1006.1"/>
<polyline class="ds" points="271.9,1024.1 277.8,1037.7"/>
<polyline class="ds" points="283.8,1050.5 287.2,1056.5"/>
<polyline class="ds" points="300.2,1082.1 304.5,1088.9"/>
<polyline class="ds" points="337,1098.3 353.2,1089.8"/>
<polyline class="ds" points="365.1,1082.1 381.4,1073.5"/>
<polyline class="ds" points="393.3,1066.7 410.4,1057.3"/>
<polyline class="ds" points="421.5,1049.6 431.7,1044.5 436.9,1053.1"/>
<polyline class="ds" points="310.5,1101.7 315.6,1111.1 325,1106"/>
<polyline class="ds" points="343.3,1183 353.3,1189.7"/>
<polyline class="ds" points="363.3,1196.3 383.3,1208"/>
<polyline class="ds" points="438.2,807.5 451.5,814.2"/>
<polyline class="ds" points="463.9,818.9 479,827.4"/>
<polyline class="ds" points="499.9,835 509.4,839.8"/>
<polyline class="ds" points="416.4,811.3 408.8,818"/>
<polyline class="ds" points="398.4,829.3 389.8,837.9"/>
<polyline class="ds" points="426.88,816 429.2,826.5"/>
<polyline class="ds" points="432.34,840.7 436.31,858.7"/>
<polyline class="ds" points="439.47,873 443.22,890"/>
<polyline class="ds" points="446.38,904.3 450.15,921.4"/>
<polyline class="ds" points="453.4,936.1 457.24,953.5"/>
<polyline class="ds" points="460.44,968 464.28,985.4"/>
<polyline class="ds" points="467.64,1000.6 471.33,1017.3"/>
<polyline class="ds" points="474.35,1031 476.45,1040.5"/>
<polyline class="ds" points="517.1,920.9 517.1,943.7 522.8,948"/>
<polyline class="ds" points="674.3,805.8 665.1,846.9 656,851.2"/>
<polyline class="ds" points="646.6,856 625.2,868.3"/>
<polyline class="ds" points="615.3,874 605.9,879.7"/>
<polyline class="ds" points="605.9,879.7 600.2,905.3"/>
<polyline class="ds" points="598.2,915.2 593.4,940.9"/>
<polyline class="ds" points="591.1,952.2 585.4,977.8"/>
<polyline class="ds" points="583.1,989.2 579.7,1003.5"/>
<polyline class="ds" points="735.7,819.9 735.7,828.4"/>
<polyline class="ds" points="727.73,833.03 714.92,840.46"/>
<polyline class="ds" points="710.65,842.94 696.42,851.2"/>
<polyline class="ds" points="686.45,856.98 670.8,866.06"/>
<polyline class="ds" points="657.98,873.5 642.33,882.58"/>
<polyline class="ds" points="628.09,890.84 612.44,899.93"/>
<polyline class="ds" points="599.63,907.36 585.39,915.62"/>
<polyline class="ds" points="571.16,923.88 556.93,932.14"/>
<polyline class="ds" points="545.54,938.74 536.43,944.03"/>
<polyline class="ds" points="537,943.7 537,952.2"/>
<polyline class="ds" points="740,922.2 751.7,915.9"/>
<polyline class="ds" points="771.1,904.6 779.9,899.8"/>
<polyline class="ds" points="791.6,893 808.1,883.2"/>
<polyline class="ds" points="819.8,876.4 831.5,869.6"/>
<polyline class="ds" points="748,917.5 734.8,925.2 734.8,948 724.9,953.7"/>
<polyline class="ds" points="714.9,959.4 696.4,969.9"/>
<polyline class="ds" points="685,976.4 666.5,986.4"/>
<polyline class="ds" points="656.6,992.1 646.6,997.8"/>
<polyline class="ds" points="876.2,739.2 882,742.2"/>
<polyline class="ds" points="887.9,746 893.7,749"/>
<polyline class="ds" points="610.3,1213 619.3,1218"/>
<polyline class="ds" points="631.3,1226.1 647.3,1235.2"/>
<polyline class="ds" points="659.4,1242.8 675.4,1251.1"/>
<polyline class="ds" points="689.3,1258 701,1264"/>
<polyline class="ds" points="731.9,1282.6 747.8,1292.6"/>
<polyline class="ds" points="759.8,1299.9 777,1309.8"/>
<polyline class="ds" points="753.8,1166.8 747.7,1172.1"/>
<polyline class="ds" points="738.6,1182 729.5,1191.1"/>
<polyline class="ds" points="722.6,1197.9 716.6,1204"/>
<polyline class="ds" points="708.2,1212.3 693.6,1226.8"/>
<polyline class="ds" points="684.5,1235.9 672.3,1248.1"/>
<polyline class="ds" points="776.4,1335.1 766.4,1340.4"/>
<polyline class="ds" points="754.5,1347.7 735.9,1358.3"/>
<polyline class="ds" points="602.7,1424.7 617.7,1410.7"/>
<polyline class="ds" points="624.3,1404 644.3,1384.7"/>
<polyline class="ds" points="652.7,1376.3 672.7,1357.3"/>
<polyline class="ds" points="681,1349.7 696,1334.7"/>
<polyline class="ds" points="696,1334.7 684.3,1326.3"/>
<polyline class="ds" points="668.5,1320.2 652.6,1311.1"/>
<polyline class="ds" points="511.7,1331.3 511.7,1348"/>
<polyline class="ds" points="511.7,1358 511.7,1374.7"/>
<polyline class="ds" points="408.2,1392.1 408.2,1400.6"/>
<polyline class="ds" points="408.2,1406.3 408.2,1413.7"/>
<polyline class="ds" points="408.2,1429.1 408.2,1435.9"/>
<polyline class="ds" points="408.2,1442.8 408.2,1447.9"/>
<polyline class="ds" points="408.2,1458.7 408.2,1466.7"/>
<text x="205.5" y="68">18</text>
<polyline class="ld" points="218,63.7 233.3,63.7 246.7,76"/>
<polygon class="ah" points="246.7,76 238.78,71.31 241.35,68.51"/>
<text x="206" y="134.5">19</text>
<polyline class="ld" points="218,130.3 246.7,131"/>
<polygon class="ah" points="246.7,131 237.66,132.68 237.75,128.88"/>
<text x="203.5" y="157.8">20</text>
<polyline class="ld" points="219,153.7 233,153.7 330,167.7"/>
<polygon class="ah" points="330,167.7 320.82,168.29 321.36,164.53"/>
<text x="203.5" y="181.5">21</text>
<polyline class="ld" points="219,177.3 320,177.3"/>
<polygon class="ah" points="320,177.3 311,179.2 311,175.4"/>
<text x="203.5" y="205.3">22</text>
<polyline class="ld" points="219,201.3 233,201.3 320,189"/>
<polygon class="ah" points="320,189 311.35,192.14 310.82,188.38"/>
<text x="203.5" y="226.6">23</text>
<polyline class="ld" points="219,222.6 233,222.6 304,205.7"/>
<polygon class="ah" points="304,205.7 295.68,209.63 294.8,205.94"/>
<text x="203.5" y="245.8">24</text>
<polyline class="ld" points="219,241.8 233,241.8 330.7,230"/>
<polygon class="ah" points="330.7,230 321.99,232.97 321.54,229.19"/>
<text x="203.5" y="266.3">25</text>
<polyline class="ld" points="219,262.3 233,262.3 333.3,237.3"/>
<polygon class="ah" points="333.3,237.3 325.03,241.32 324.11,237.63"/>
<text x="203.5" y="286.5">26</text>
<polyline class="ld" points="219,282.5 233,282.5 333.3,242.7"/>
<polygon class="ah" points="333.3,242.7 325.64,247.79 324.23,244.25"/>
<text x="436.7" y="108.4">43</text>
<polyline class="ld" points="434.3,104.3 421.7,104.3 406.7,87.3"/>
<polygon class="ah" points="406.7,87.3 414.08,92.79 411.23,95.31"/>
<text x="481" y="171.1">17</text>
<polyline class="ld" points="478.3,167 462.7,167 448.5,181.5"/>
<polygon class="ah" points="448.5,181.5 453.44,173.74 456.15,176.4"/>
<text x="521.7" y="171.1">16</text>
<polyline class="ld" points="519,167 504.3,167 472.7,196.7"/>
<polygon class="ah" points="472.7,196.7 477.96,189.15 480.56,191.92"/>
<text x="635.3" y="159.1">15</text>
<polyline class="ld" points="632.7,155 619.3,155 570.3,205"/>
<polygon class="ah" points="570.3,205 575.24,197.24 577.96,199.9"/>
<text x="635.3" y="245.1">14</text>
<polyline class="ld" points="632.7,241 619.3,241 571,217.3"/>
<polygon class="ah" points="571,217.3 579.92,219.56 578.24,222.97"/>
<text x="635.3" y="268.4">13</text>
<polyline class="ld" points="632.7,264.3 619.3,264.3 572.7,247.3"/>
<polygon class="ah" points="572.7,247.3 581.81,248.6 580.5,252.17"/>
<text x="635.3" y="289.4">12</text>
<polyline class="ld" points="632.7,285.3 619.3,285.3 551,273.3"/>
<polygon class="ah" points="551,273.3 560.19,272.99 559.54,276.73"/>
<text x="638.3" y="314.1">11</text>
<polyline class="ld" points="632.7,310 619.3,310 556,329.3"/>
<polygon class="ah" points="556,329.3 564.05,324.86 565.16,328.49"/>
<text x="635.3" y="363.1">10</text>
<polyline class="ld" points="632.7,359 619.3,359 575,382.7"/>
<polygon class="ah" points="575,382.7 582.04,376.78 583.83,380.13"/>
<text x="638.3" y="393.4">9</text>
<polyline class="ld" points="632.7,389.3 619.3,389.3 555,425"/>
<polygon class="ah" points="555,425 561.95,418.97 563.79,422.29"/>
<text x="638.3" y="415.1">8</text>
<polyline class="ld" points="632.7,411 619.3,411 537,449.3"/>
<polygon class="ah" points="537,449.3 544.36,443.78 545.96,447.23"/>
<text x="638.3" y="436.1">7</text>
<polyline class="ld" points="632.7,432 619.3,432 552,456.7"/>
<polygon class="ah" points="552,456.7 559.79,451.82 561.1,455.38"/>
<text x="638.3" y="464.8">6</text>
<polyline class="ld" points="632.7,460.7 619.3,460.7 553.7,468.3"/>
<polygon class="ah" points="553.7,468.3 562.42,465.38 562.86,469.15"/>
<text x="638.3" y="499.8">5</text>
<polyline class="ld" points="632.7,495.7 619.3,495.7 551,515"/>
<polygon class="ah" points="551,515 559.14,510.72 560.18,514.38"/>
<text x="721.7" y="120.1">44</text>
<polyline class="ld" points="719.3,116 707.7,116 685,106"/>
<polygon class="ah" points="685,106 694,107.89 692.47,111.37"/>
<text x="721.7" y="168.1">45</text>
<polyline class="ld" points="719.3,164 707.7,164 684.3,146.7"/>
<polygon class="ah" points="684.3,146.7 692.67,150.52 690.41,153.58"/>
<text x="721.7" y="228.6">46</text>
<polyline class="ld" points="719.3,224.5 707.7,224.5 684.3,246.7"/>
<polygon class="ah" points="684.3,246.7 689.52,239.13 692.14,241.88"/>
<text x="208.3" y="390">3</text>
<polyline class="ld" points="219.8,385.7 235,385.7 250,428.3"/>
<polygon class="ah" points="250,428.3 245.22,420.44 248.8,419.18"/>
<text x="205" y="509.5">28</text>
<polyline class="ld" points="219,505.3 233,505.3 250,488"/>
<polygon class="ah" points="250,488 245.05,495.75 242.34,493.09"/>
<text x="205" y="529">29</text>
<polyline class="ld" points="219,524.8 233,524.8 270,478"/>
<polygon class="ah" points="270,478 265.91,486.24 262.93,483.88"/>
<text x="205" y="550.1">30</text>
<polyline class="ld" points="219.8,545.9 234.8,545.9 261.3,512"/>
<polygon class="ah" points="261.3,512 257.25,520.26 254.26,517.92"/>
<text x="206" y="571.9">31</text>
<polyline class="ld" points="219.8,567.8 233.8,567.8 288.9,486.1"/>
<polygon class="ah" points="288.9,486.1 285.44,494.62 282.29,492.5"/>
<text x="230.8" y="583.5">4</text>
<polyline class="ld" points="241.4,579.4 255.7,579.4 292.9,526"/>
<polygon class="ah" points="292.9,526 289.31,534.47 286.2,532.3"/>
<text x="249.5" y="598.2">33</text>
<polyline class="ld" points="264,594 278,594 296.4,560.4"/>
<polygon class="ah" points="296.4,560.4 293.74,569.21 290.41,567.38"/>
<text x="443" y="411.2">34</text>
<polyline class="ld" points="440.7,407 427.4,407 414.1,437"/>
<polygon class="ah" points="414.1,437 416.01,428 419.48,429.54"/>
<text x="465.6" y="424">35</text>
<polyline class="ld" points="463,419.7 449.6,419.7 418.4,437"/>
<polygon class="ah" points="418.4,437 425.35,430.97 427.19,434.3"/>
<text x="461.6" y="489.8">36</text>
<polyline class="ld" points="458.3,485.6 445,485.6 421.4,505"/>
<polygon class="ah" points="421.4,505 427.15,497.82 429.56,500.75"/>
<text x="495.5" y="510.3">37</text>
<polyline class="ld" points="492.8,506 480.5,506 458.3,556.5"/>
<polygon class="ah" points="458.3,556.5 460.18,547.5 463.66,549.03"/>
<text x="479.5" y="534.9">38</text>
<polyline class="ld" points="494.8,530.6 508.8,530.6 518.7,559.2"/>
<polygon class="ah" points="518.7,559.2 513.96,551.32 517.55,550.07"/>
<text x="406.5" y="634.9">39</text>
<polyline class="ld" points="421.4,630.6 435.7,630.6 474.9,599.7"/>
<polygon class="ah" points="474.9,599.7 469.01,606.76 466.66,603.78"/>
<text x="635.3" y="550">32</text>
<polyline class="ld" points="632.7,545.7 619.3,545.7 578.7,594"/>
<polygon class="ah" points="578.7,594 583.04,585.89 585.95,588.33"/>
<text x="635.3" y="600.5">27</text>
<polyline class="ld" points="632.7,596.3 619.3,596.3 614.3,624"/>
<polygon class="ah" points="614.3,624 614.03,614.81 617.77,615.48"/>
<text x="674.3" y="600.5">2</text>
<polyline class="ld" points="669.3,596.3 656,596.3 642.7,633.3"/>
<polygon class="ah" points="642.7,633.3 643.96,624.19 647.53,625.47"/>
<text x="715.3" y="600.5">1</text>
<polyline class="ld" points="707.7,596.3 693.3,596.3 672.7,650"/>
<polygon class="ah" points="672.7,650 674.15,640.92 677.7,642.28"/>
<text x="114" y="720.2">58</text>
<polyline class="ld" points="128.3,716 141.7,716 156.7,730.7"/>
<polygon class="ah" points="156.7,730.7 148.94,725.76 151.6,723.04"/>
<text x="114" y="778.5">57</text>
<polyline class="ld" points="128.3,774.3 133.3,774.3 150.7,757.3"/>
<polygon class="ah" points="150.7,757.3 145.59,764.95 142.93,762.23"/>
<text x="116" y="804.5">56</text>
<polyline class="ld" points="130,800.3 159.3,800.3"/>
<polygon class="ah" points="159.3,800.3 150.3,802.2 150.3,798.4"/>
<text x="298.7" y="806.2">63</text>
<polyline class="ld" points="312.7,802 413.3,802"/>
<polygon class="ah" points="413.3,802 404.3,803.9 404.3,800.1"/>
<text x="298.7" y="846.9">62</text>
<polyline class="ld" points="312.7,842.7 363.3,842.7"/>
<polygon class="ah" points="363.3,842.7 354.3,844.6 354.3,840.8"/>
<text x="526" y="810">64</text>
<polyline class="ld" points="517.7,805.7 504.3,805.7 492.7,822.3"/>
<polygon class="ah" points="492.7,822.3 496.3,813.83 499.41,816.01"/>
<text x="455" y="887.9">61</text>
<polyline class="ld" points="470,883.7 497.7,883.7"/>
<polygon class="ah" points="497.7,883.7 488.7,885.6 488.7,881.8"/>
<text x="455" y="902.2">60</text>
<polyline class="ld" points="470,898 497.7,898"/>
<polygon class="ah" points="497.7,898 488.7,899.9 488.7,896.1"/>
<text x="455" y="918.2">59</text>
<polyline class="ld" points="470,914 497.7,914"/>
<polygon class="ah" points="497.7,914 488.7,915.9 488.7,912.1"/>
<text x="249" y="907.5">55</text>
<polyline class="ld" points="246.7,903.3 216.7,903.3"/>
<polygon class="ah" points="216.7,903.3 225.7,901.4 225.7,905.2"/>
<text x="127.3" y="963.5">52</text>
<polyline class="ld" points="141.7,959.3 214.3,959.3"/>
<polygon class="ah" points="214.3,959.3 205.3,961.2 205.3,957.4"/>
<text x="325.7" y="959.9">53</text>
<polyline class="ld" points="322.7,955.7 293.3,955.7"/>
<polygon class="ah" points="293.3,955.7 302.3,953.8 302.3,957.6"/>
<text x="140.7" y="991.5">51</text>
<polyline class="ld" points="155,987.3 210,987.3"/>
<polygon class="ah" points="210,987.3 201,989.2 201,985.4"/>
<text x="165" y="1045.5">49</text>
<polyline class="ld" points="179.3,1041.3 196.7,1041.3 259.3,1020"/>
<polygon class="ah" points="259.3,1020 251.39,1024.7 250.17,1021.1"/>
<text x="186.7" y="1093">48</text>
<polyline class="ld" points="200.7,1088.7 216.7,1088.7 276.7,1071.3"/>
<polygon class="ah" points="276.7,1071.3 268.59,1075.63 267.53,1071.98"/>
<text x="238.3" y="1210">47</text>
<polyline class="ld" points="252.7,1205.7 270,1205.7 321.7,1190.3"/>
<polygon class="ah" points="321.7,1190.3 313.62,1194.69 312.53,1191.05"/>
<text x="947.7" y="694.9">68</text>
<polyline class="ld" points="944.7,690.7 901.3,690.7"/>
<polygon class="ah" points="901.3,690.7 910.3,688.8 910.3,692.6"/>
<text x="933" y="774.2">69</text>
<polyline class="ld" points="925.3,770 911.3,770 896.3,787.3"/>
<polygon class="ah" points="896.3,787.3 900.76,779.26 903.63,781.74"/>
<text x="694.3" y="760.2">66</text>
<polyline class="ld" points="691.7,756 679.3,756 662.7,765.7"/>
<polygon class="ah" points="662.7,765.7 669.51,759.52 671.43,762.8"/>
<text x="693.7" y="780.5">67</text>
<polyline class="ld" points="708.7,776.3 733.7,789"/>
<polygon class="ah" points="733.7,789 724.82,786.62 726.54,783.23"/>
<text x="627" y="815.5">65</text>
<polyline class="ld" points="624.3,811.3 612.7,811.3 597.7,789"/>
<polygon class="ah" points="597.7,789 604.3,795.41 601.15,797.53"/>
<text x="721" y="1043.2">70</text>
<polyline class="ld" points="717.7,1039 689.3,1039 664.3,1050.7"/>
<polygon class="ah" points="664.3,1050.7 671.65,1045.16 673.26,1048.61"/>
<text x="725" y="1064.2">71</text>
<polyline class="ld" points="717.7,1060 681,1060"/>
<polygon class="ah" points="681,1060 690,1058.1 690,1061.9"/>
<text x="707.7" y="1121.5">73</text>
<polyline class="ld" points="705,1117.3 666,1117.3"/>
<polygon class="ah" points="666,1117.3 675,1115.4 675,1119.2"/>
<text x="707.7" y="1138.2">74</text>
<polyline class="ld" points="705,1134 666,1134"/>
<polygon class="ah" points="666,1134 675,1132.1 675,1135.9"/>
<text x="707.7" y="1157.5">75</text>
<polyline class="ld" points="705,1153.3 641,1153.3"/>
<polygon class="ah" points="641,1153.3 650,1151.4 650,1155.2"/>
<text x="853.7" y="1118.2">72</text>
<polyline class="ld" points="851,1114 813.7,1114"/>
<polygon class="ah" points="813.7,1114 822.7,1112.1 822.7,1115.9"/>
<text x="830.3" y="1178.2">76</text>
<polyline class="ld" points="827,1174 788,1174"/>
<polygon class="ah" points="788,1174 797,1172.1 797,1175.9"/>
<text x="783.7" y="1263">77</text>
<polyline class="ld" points="781,1258.7 766,1258.7 724.3,1270.7"/>
<polygon class="ah" points="724.3,1270.7 732.42,1266.39 733.47,1270.04"/>
<text x="860.3" y="1331.2">78</text>
<polyline class="ld" points="857,1327 818.7,1327"/>
<polygon class="ah" points="818.7,1327 827.7,1325.1 827.7,1328.9"/>
<text x="766" y="1397.2">79</text>
<polyline class="ld" points="762.7,1393 749.3,1393 732.7,1376.3"/>
<polygon class="ah" points="732.7,1376.3 740.39,1381.34 737.7,1384.02"/>
<text x="336" y="1422">87</text>
<polyline class="ld" points="351.7,1417.6 356.7,1417.6 366.7,1393"/>
<polygon class="ah" points="366.7,1393 365.07,1402.05 361.55,1400.62"/>
<text x="336" y="1438">86</text>
<polyline class="ld" points="350,1433.7 366.7,1433.7 396.7,1421.3"/>
<polygon class="ah" points="396.7,1421.3 389.11,1426.49 387.66,1422.98"/>
<text x="336" y="1453.5">85</text>
<polyline class="ld" points="350,1449.3 403.3,1449.3"/>
<polygon class="ah" points="403.3,1449.3 394.3,1451.2 394.3,1447.4"/>
<text x="336" y="1476.5">84</text>
<polyline class="ld" points="350,1472.3 404,1472.3"/>
<polygon class="ah" points="404,1472.3 395,1474.2 395,1470.4"/>
<text x="576.7" y="1476.3">82</text>
<polyline class="ld" points="573.7,1472 561,1472 546,1448"/>
<polygon class="ah" points="546,1448 552.38,1454.62 549.16,1456.64"/>
<text x="630.3" y="1475">81</text>
<polyline class="ld" points="623.7,1470.7 610.3,1470.7 594.3,1447.3"/>
<polygon class="ah" points="594.3,1447.3 600.95,1453.66 597.81,1455.8"/>
<text x="700.3" y="1443">80</text>
<polyline class="ld" points="697.7,1438.7 659.3,1438.7"/>
<polygon class="ah" points="659.3,1438.7 668.3,1436.8 668.3,1440.6"/>
<text x="112.7" y="693.9">40</text>
<path class="ld" d="M126.7,689.7 L140,689.7 C152,689.7 158,687.5 171.7,686.3"/>
<polygon class="ah" points="171.7,686.3 163,689.3 162.53,685.53"/>
<text x="469.3" y="722.3">41</text>
<path class="ld" d="M483.3,718 L492,718 C500,718 506,720 514.3,721.7"/>
<polygon class="ah" points="514.3,721.7 505.1,721.65 505.91,717.94"/>
<text x="115" y="935.9">54</text>
<path class="ld" d="M129.3,931.7 L142,931.7 C154,931.7 160,929.5 171.7,928"/>
<polygon class="ah" points="171.7,928 163.04,931.11 162.52,927.35"/>
<text x="325.7" y="999.9">50</text>
<path class="ld" d="M322.7,995.7 L312,995.7 C302,995.7 296,990 283.3,985.7"/>
<polygon class="ah" points="283.3,985.7 292.37,987.2 290.99,990.74"/>
<text x="447.7" y="1397.3">83</text>
<path class="ld" d="M461.4,1392.8 L476,1392.8 C488,1392.8 496,1390 507.6,1388"/>
<polygon class="ah" points="507.6,1388 499.1,1391.51 498.4,1387.77"/>
<rect class="ov" x="776" y="332.7" width="26.6" height="14.6" rx="7.3" ry="7.3"/>
<text class="ovt" x="789.3" y="344.3" text-anchor="middle">A</text>
<rect class="ov" x="243.25" y="700.6" width="22.5" height="12.4" rx="6.2" ry="6.2"/>
<text class="ovt" x="254.5" y="711.1" text-anchor="middle">B</text>
<rect class="ov" x="243.25" y="716.6" width="22.5" height="12.4" rx="6.2" ry="6.2"/>
<text class="ovt" x="254.5" y="727.1" text-anchor="middle">C</text>
<rect class="ov" x="101.55" y="734.5" width="22.5" height="12.4" rx="6.2" ry="6.2"/>
<text class="ovt" x="112.8" y="745" text-anchor="middle">B</text>
<rect class="ov" x="101.55" y="750.6" width="22.5" height="12.4" rx="6.2" ry="6.2"/>
<text class="ovt" x="112.8" y="761.1" text-anchor="middle">C</text>
<rect class="ov" x="509.35" y="837.35" width="25.7" height="13.3" rx="6.65" ry="6.65"/>
<text class="ovt" x="522.2" y="848.3" text-anchor="middle">B</text>
<rect class="ov" x="894.8" y="746.7" width="27" height="14" rx="7" ry="7"/>
<text class="ovt" x="908.3" y="758" text-anchor="middle">B</text>
<rect class="ov" x="880.35" y="814.65" width="26.7" height="13.3" rx="6.65" ry="6.65"/>
<text class="ovt" x="893.7" y="825.6" text-anchor="middle">A</text>
<rect class="ov" x="541.65" y="1378" width="27.7" height="14" rx="7" ry="7"/>
<text class="ovt" x="555.5" y="1389.3" text-anchor="middle">C</text>
<rect class="ov" x="490.95" y="1435.7" width="26.7" height="14" rx="7" ry="7"/>
<text class="ovt" x="504.3" y="1447" text-anchor="middle">C</text>
</svg>
</body></html>
